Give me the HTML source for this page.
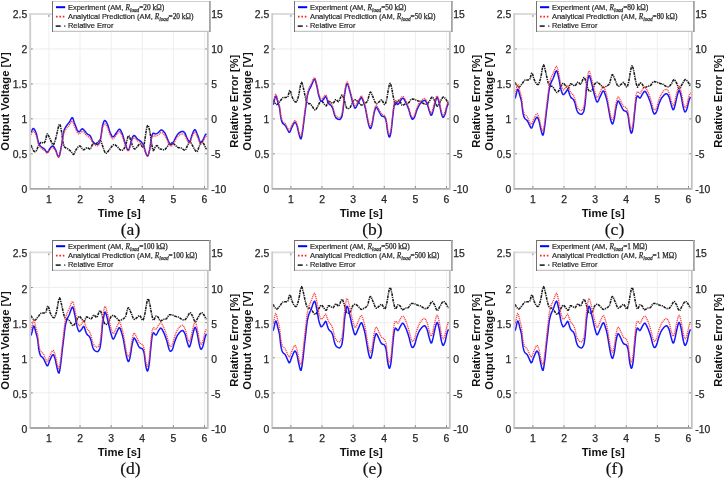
<!DOCTYPE html>
<html><head><meta charset="utf-8"><style>
html,body{margin:0;padding:0;background:#fff;width:725px;height:478px;overflow:hidden}
svg{display:block;will-change:transform}
text{font-family:"Liberation Sans",sans-serif;fill:#1a1a1a}
.tl{font-size:10.4px;fill:#262626;stroke:#262626;stroke-width:0.25px}
.al{font-size:11.3px;font-weight:bold;fill:#111}
.cap{font-family:"Liberation Serif",serif;font-size:17.5px;fill:#111;stroke:#111;stroke-width:0.2px}
.lg{font-size:7.45px;fill:#282828;stroke:#282828;stroke-width:0.2px}
.ser{font-family:"Liberation Serif",serif;font-size:7.35px;stroke-width:0.25px}
</style></head><body>
<svg width="725" height="478" viewBox="0 0 725 478">
<g transform="translate(0,0)">
<path d="M48.90 14.0V188.8M80.02 14.0V188.8M111.14 14.0V188.8M142.26 14.0V188.8M173.38 14.0V188.8M204.50 14.0V188.8M30.2 153.84H207.8M30.2 118.88H207.8M30.2 83.92H207.8M30.2 48.96H207.8" stroke="#ececec" stroke-width="0.9" fill="none"/>
<path d="M31.10 145.01 L31.60 146.58 L32.10 147.88 L32.60 148.95 L33.10 149.95 L33.60 150.79 L34.10 151.37 L34.60 151.61 L35.10 151.62 L35.60 151.40 L36.10 150.96 L36.60 150.28 L37.10 149.13 L37.60 147.74 L38.10 146.41 L38.60 145.44 L39.10 144.65 L39.60 143.91 L40.10 143.25 L40.60 142.73 L41.10 142.39 L41.60 142.29 L42.10 142.45 L42.60 142.75 L43.10 143.01 L43.60 143.09 L44.10 142.83 L44.60 142.28 L45.10 141.56 L45.60 140.20 L46.10 137.73 L46.60 135.25 L47.10 133.93 L47.60 134.16 L48.10 134.88 L48.60 135.89 L49.10 137.02 L49.60 138.11 L50.10 139.09 L50.60 140.19 L51.10 141.35 L51.60 142.49 L52.10 143.50 L52.60 144.31 L53.10 144.80 L53.60 144.62 L54.10 143.65 L54.60 142.18 L55.10 140.50 L55.60 138.90 L56.10 137.19 L56.60 135.10 L57.10 132.79 L57.60 130.44 L58.10 128.22 L58.60 126.31 L59.10 124.87 L59.60 124.16 L60.10 124.90 L60.60 126.79 L61.10 129.30 L61.60 131.96 L62.10 135.76 L62.60 140.04 L63.10 143.10 L63.60 144.84 L64.10 146.22 L64.60 147.11 L65.10 147.50 L65.60 147.77 L66.10 148.00 L66.60 148.22 L67.10 148.45 L67.60 148.73 L68.10 149.07 L68.60 149.46 L69.10 149.86 L69.60 150.27 L70.10 150.70 L70.60 151.14 L71.10 151.60 L71.60 152.23 L72.10 152.99 L72.60 153.71 L73.10 154.24 L73.60 154.39 L74.10 153.89 L74.60 152.89 L75.10 151.66 L75.60 150.49 L76.10 149.67 L76.60 148.98 L77.10 148.27 L77.60 147.60 L78.10 146.99 L78.60 146.50 L79.10 146.15 L79.60 146.00 L80.10 146.10 L80.60 146.49 L81.10 147.10 L81.60 147.82 L82.10 148.55 L82.60 149.19 L83.10 149.64 L83.60 149.80 L84.10 149.67 L84.60 149.38 L85.10 148.98 L85.60 148.54 L86.10 148.13 L86.60 147.81 L87.10 147.67 L87.60 147.76 L88.10 148.01 L88.60 148.36 L89.10 148.70 L89.60 148.95 L90.10 149.04 L90.60 148.75 L91.10 147.77 L91.60 146.42 L92.10 145.07 L92.60 144.10 L93.10 143.74 L93.60 143.61 L94.10 143.59 L94.60 143.63 L95.10 143.67 L95.60 143.65 L96.10 143.50 L96.60 143.17 L97.10 142.69 L97.60 142.13 L98.10 141.53 L98.60 140.98 L99.10 140.54 L99.60 140.26 L100.10 140.25 L100.60 140.78 L101.10 141.78 L101.60 143.09 L102.10 144.54 L102.60 145.97 L103.10 147.34 L103.60 148.92 L104.10 150.36 L104.60 151.54 L105.10 152.60 L105.60 153.24 L106.10 153.23 L106.60 152.92 L107.10 152.44 L107.60 151.89 L108.10 151.29 L108.60 150.65 L109.10 150.00 L109.60 149.36 L110.10 148.76 L110.60 148.11 L111.10 147.42 L111.60 146.73 L112.10 146.08 L112.60 145.50 L113.10 145.04 L113.60 144.72 L114.10 144.59 L114.60 144.66 L115.10 144.89 L115.60 145.25 L116.10 145.69 L116.60 146.16 L117.10 146.63 L117.60 147.08 L118.10 147.58 L118.60 148.13 L119.10 148.69 L119.60 149.24 L120.10 149.73 L120.60 150.13 L121.10 150.38 L121.60 150.43 L122.10 150.30 L122.60 150.01 L123.10 149.60 L123.60 149.09 L124.10 148.50 L124.60 147.62 L125.10 146.34 L125.60 144.86 L126.10 143.38 L126.60 141.82 L127.10 139.92 L127.60 138.01 L128.10 136.47 L128.60 135.65 L129.10 135.85 L129.60 136.92 L130.10 138.45 L130.60 140.04 L131.10 141.44 L131.60 142.97 L132.10 144.50 L132.60 145.85 L133.10 146.88 L133.60 147.81 L134.10 148.57 L134.60 149.00 L135.10 148.95 L135.60 148.59 L136.10 148.10 L136.60 147.53 L137.10 146.95 L137.60 146.39 L138.10 145.76 L138.60 145.06 L139.10 144.40 L139.60 143.91 L140.10 143.69 L140.60 144.01 L141.10 144.77 L141.60 145.68 L142.10 146.47 L142.60 146.91 L143.10 146.94 L143.60 146.51 L144.10 145.12 L144.60 141.75 L145.10 138.26 L145.60 134.76 L146.10 131.26 L146.60 128.43 L147.10 126.60 L147.60 125.54 L148.10 125.50 L148.60 126.57 L149.10 128.41 L149.60 130.60 L150.10 133.17 L150.60 136.20 L151.10 139.47 L151.60 143.29 L152.10 146.50 L152.60 148.86 L153.10 150.45 L153.60 150.37 L154.10 149.38 L154.60 148.19 L155.10 147.30 L155.60 146.68 L156.10 146.08 L156.60 145.66 L157.10 145.57 L157.60 145.98 L158.10 146.84 L158.60 147.78 L159.10 148.44 L159.60 148.69 L160.10 148.89 L160.60 149.07 L161.10 149.22 L161.60 149.35 L162.10 149.47 L162.60 149.60 L163.10 149.72 L163.60 149.79 L164.10 149.81 L164.60 149.71 L165.10 149.36 L165.60 148.82 L166.10 148.19 L166.60 147.54 L167.10 146.92 L167.60 146.18 L168.10 145.40 L168.60 144.66 L169.10 144.07 L169.60 143.68 L170.10 143.36 L170.60 143.11 L171.10 142.95 L171.60 142.90 L172.10 142.97 L172.60 143.17 L173.10 143.45 L173.60 143.79 L174.10 144.18 L174.60 144.59 L175.10 145.00 L175.60 145.46 L176.10 145.98 L176.60 146.50 L177.10 146.96 L177.60 147.30 L178.10 147.51 L178.60 147.65 L179.10 147.74 L179.60 147.81 L180.10 147.87 L180.60 147.95 L181.10 148.07 L181.60 148.27 L182.10 148.58 L182.60 148.96 L183.10 149.35 L183.60 149.71 L184.10 150.01 L184.60 150.18 L185.10 150.18 L185.60 149.69 L186.10 148.76 L186.60 147.59 L187.10 146.41 L187.60 145.42 L188.10 144.38 L188.60 143.28 L189.10 142.29 L189.60 141.61 L190.10 141.41 L190.60 141.85 L191.10 142.73 L191.60 143.80 L192.10 144.80 L192.60 145.72 L193.10 146.69 L193.60 147.66 L194.10 148.58 L194.60 149.40 L195.10 150.16 L195.60 150.86 L196.10 151.39 L196.60 151.64 L197.10 151.50 L197.60 150.78 L198.10 149.55 L198.60 148.11 L199.10 146.74 L199.60 145.50 L200.10 144.14 L200.60 142.89 L201.10 142.00 L201.60 141.66 L202.10 141.76 L202.60 142.19 L203.10 142.83 L203.60 143.59 L204.10 144.42 L204.60 145.50 L205.10 146.69 L205.60 147.83 L206.10 148.74 L206.60 149.31" fill="none" stroke="#1a1a1a" stroke-width="1.55" stroke-dasharray="2.8 0.8 1.2 0.8" stroke-linejoin="round"/>
<path d="M31.10 132.68 L31.60 131.18 L32.10 129.92 L32.60 129.00 L33.10 128.53 L33.60 128.58 L34.10 129.00 L34.60 129.71 L35.10 130.66 L35.60 131.80 L36.10 133.08 L36.60 134.53 L37.10 136.56 L37.60 138.95 L38.10 141.30 L38.60 143.17 L39.10 144.25 L39.60 145.02 L40.10 145.65 L40.60 146.19 L41.10 146.65 L41.60 147.06 L42.10 147.43 L42.60 147.76 L43.10 148.10 L43.60 148.45 L44.10 148.83 L44.60 149.31 L45.10 149.98 L45.60 150.74 L46.10 151.46 L46.60 152.02 L47.10 152.29 L47.60 152.15 L48.10 151.60 L48.60 150.79 L49.10 149.87 L49.60 148.96 L50.10 148.22 L50.60 147.65 L51.10 147.10 L51.60 146.60 L52.10 146.22 L52.60 146.02 L53.10 146.09 L53.60 146.54 L54.10 147.23 L54.60 148.04 L55.10 148.85 L55.60 149.76 L56.10 151.05 L56.60 152.55 L57.10 154.08 L57.60 155.46 L58.10 156.47 L58.60 156.93 L59.10 156.41 L59.60 154.93 L60.10 152.79 L60.60 150.26 L61.10 147.62 L61.60 145.10 L62.10 142.06 L62.60 138.53 L63.10 135.05 L63.60 132.14 L64.10 130.33 L64.60 129.11 L65.10 128.06 L65.60 127.16 L66.10 126.37 L66.60 125.65 L67.10 124.97 L67.60 124.31 L68.10 123.69 L68.60 123.09 L69.10 122.46 L69.60 121.75 L70.10 120.82 L70.60 119.80 L71.10 118.83 L71.60 118.07 L72.10 117.64 L72.60 117.82 L73.10 118.92 L73.60 120.54 L74.10 122.19 L74.60 123.47 L75.10 124.73 L75.60 126.04 L76.10 127.35 L76.60 128.61 L77.10 129.75 L77.60 130.70 L78.10 131.40 L78.60 131.80 L79.10 131.82 L79.60 131.51 L80.10 130.98 L80.60 130.33 L81.10 129.69 L81.60 129.15 L82.10 128.84 L82.60 128.85 L83.10 129.19 L83.60 129.64 L84.10 130.18 L84.60 130.77 L85.10 131.40 L85.60 132.03 L86.10 132.64 L86.60 133.20 L87.10 133.68 L87.60 134.06 L88.10 134.37 L88.60 134.65 L89.10 134.95 L89.60 135.31 L90.10 135.77 L90.60 136.44 L91.10 137.51 L91.60 138.77 L92.10 140.04 L92.60 141.09 L93.10 141.79 L93.60 142.37 L94.10 142.87 L94.60 143.29 L95.10 143.62 L95.60 143.90 L96.10 144.11 L96.60 144.25 L97.10 144.35 L97.60 144.39 L98.10 144.31 L98.60 143.81 L99.10 142.93 L99.60 141.76 L100.10 140.39 L100.60 138.62 L101.10 135.64 L101.60 132.00 L102.10 128.39 L102.60 125.50 L103.10 123.70 L103.60 122.20 L104.10 121.07 L104.60 120.52 L105.10 120.63 L105.60 121.04 L106.10 121.68 L106.60 122.51 L107.10 123.48 L107.60 124.61 L108.10 126.04 L108.60 127.66 L109.10 129.36 L109.60 131.02 L110.10 132.51 L110.60 133.70 L111.10 134.65 L111.60 135.57 L112.10 136.33 L112.60 136.79 L113.10 136.85 L113.60 136.50 L114.10 136.00 L114.60 135.39 L115.10 134.70 L115.60 133.98 L116.10 133.27 L116.60 132.60 L117.10 131.90 L117.60 131.14 L118.10 130.40 L118.60 129.75 L119.10 129.30 L119.60 129.22 L120.10 129.58 L120.60 130.28 L121.10 131.20 L121.60 132.25 L122.10 133.32 L122.60 134.63 L123.10 136.23 L123.60 137.98 L124.10 139.74 L124.60 141.41 L125.10 142.88 L125.60 144.43 L126.10 146.02 L126.60 147.53 L127.10 148.81 L127.60 149.74 L128.10 150.18 L128.60 149.97 L129.10 148.97 L129.60 147.41 L130.10 145.58 L130.60 143.76 L131.10 142.04 L131.60 140.04 L132.10 138.21 L132.60 137.03 L133.10 136.26 L133.60 135.70 L134.10 135.47 L134.60 135.67 L135.10 136.12 L135.60 136.68 L136.10 137.30 L136.60 137.92 L137.10 138.50 L137.60 138.99 L138.10 139.40 L138.60 139.77 L139.10 140.12 L139.60 140.46 L140.10 140.83 L140.60 141.23 L141.10 141.68 L141.60 142.22 L142.10 142.85 L142.60 143.58 L143.10 144.43 L143.60 145.48 L144.10 146.96 L144.60 148.71 L145.10 150.55 L145.60 152.24 L146.10 153.62 L146.60 154.85 L147.10 155.76 L147.60 156.11 L148.10 155.47 L148.60 153.98 L149.10 151.98 L149.60 149.80 L150.10 146.92 L150.60 143.18 L151.10 139.50 L151.60 136.76 L152.10 135.18 L152.60 133.93 L153.10 133.19 L153.60 133.16 L154.10 133.40 L154.60 133.68 L155.10 133.88 L155.60 133.88 L156.10 133.76 L156.60 133.58 L157.10 133.36 L157.60 133.10 L158.10 132.75 L158.60 132.27 L159.10 131.72 L159.60 131.17 L160.10 130.67 L160.60 130.27 L161.10 130.03 L161.60 130.00 L162.10 130.16 L162.60 130.47 L163.10 130.90 L163.60 131.41 L164.10 131.97 L164.60 132.60 L165.10 133.45 L165.60 134.48 L166.10 135.60 L166.60 136.75 L167.10 137.91 L167.60 139.20 L168.10 140.51 L168.60 141.71 L169.10 142.66 L169.60 143.53 L170.10 144.27 L170.60 144.72 L171.10 144.77 L171.60 144.47 L172.10 143.93 L172.60 143.22 L173.10 142.44 L173.60 141.64 L174.10 140.76 L174.60 139.79 L175.10 138.77 L175.60 137.74 L176.10 136.77 L176.60 135.91 L177.10 135.16 L177.60 134.48 L178.10 133.86 L178.60 133.34 L179.10 132.93 L179.60 132.57 L180.10 132.24 L180.60 131.95 L181.10 131.70 L181.60 131.51 L182.10 131.38 L182.60 131.39 L183.10 131.53 L183.60 131.79 L184.10 132.16 L184.60 132.60 L185.10 133.33 L185.60 134.42 L186.10 135.70 L186.60 136.99 L187.10 138.10 L187.60 139.13 L188.10 140.18 L188.60 141.09 L189.10 141.69 L189.60 141.80 L190.10 141.11 L190.60 139.70 L191.10 137.91 L191.60 136.12 L192.10 134.70 L192.60 133.53 L193.10 132.30 L193.60 131.18 L194.10 130.28 L194.60 129.76 L195.10 129.75 L195.60 130.29 L196.10 131.25 L196.60 132.46 L197.10 133.74 L197.60 134.93 L198.10 136.29 L198.60 137.84 L199.10 139.39 L199.60 140.78 L200.10 141.83 L200.60 142.36 L201.10 142.35 L201.60 141.95 L202.10 141.28 L202.60 140.47 L203.10 139.63 L203.60 138.62 L204.10 137.45 L204.60 136.29 L205.10 135.28 L205.60 134.59 L206.10 134.09 L206.60 133.74" fill="none" stroke="#1515ff" stroke-width="1.5" stroke-linejoin="round"/>
<path d="M31.10 134.78 L31.60 133.47 L32.10 132.36 L32.60 131.57 L33.10 131.21 L33.60 131.33 L34.10 131.78 L34.60 132.48 L35.10 133.38 L35.60 134.45 L36.10 135.64 L36.60 136.96 L37.10 138.82 L37.60 141.02 L38.10 143.16 L38.60 144.90 L39.10 145.89 L39.60 146.58 L40.10 147.16 L40.60 147.65 L41.10 148.06 L41.60 148.46 L42.10 148.82 L42.60 149.17 L43.10 149.50 L43.60 149.85 L44.10 150.20 L44.60 150.63 L45.10 151.24 L45.60 151.90 L46.10 152.46 L46.60 152.88 L47.10 153.08 L47.60 152.95 L48.10 152.46 L48.60 151.72 L49.10 150.88 L49.60 150.05 L50.10 149.39 L50.60 148.90 L51.10 148.44 L51.60 148.03 L52.10 147.72 L52.60 147.57 L53.10 147.68 L53.60 148.09 L54.10 148.70 L54.60 149.39 L55.10 150.09 L55.60 150.88 L56.10 152.04 L56.60 153.40 L57.10 154.78 L57.60 156.00 L58.10 156.90 L58.60 157.27 L59.10 156.68 L59.60 155.19 L60.10 153.10 L60.60 150.69 L61.10 148.23 L61.60 145.92 L62.10 143.19 L62.60 140.05 L63.10 136.91 L63.60 134.25 L64.10 132.62 L64.60 131.51 L65.10 130.55 L65.60 129.71 L66.10 128.97 L66.60 128.30 L67.10 127.67 L67.60 127.06 L68.10 126.50 L68.60 125.96 L69.10 125.40 L69.60 124.76 L70.10 123.91 L70.60 122.98 L71.10 122.11 L71.60 121.44 L72.10 121.11 L72.60 121.35 L73.10 122.45 L73.60 124.01 L74.10 125.53 L74.60 126.65 L75.10 127.73 L75.60 128.88 L76.10 130.06 L76.60 131.20 L77.10 132.23 L77.60 133.08 L78.10 133.71 L78.60 134.05 L79.10 134.05 L79.60 133.74 L80.10 133.23 L80.60 132.65 L81.10 132.07 L81.60 131.62 L82.10 131.38 L82.60 131.44 L83.10 131.81 L83.60 132.26 L84.10 132.76 L84.60 133.30 L85.10 133.87 L85.60 134.44 L86.10 134.99 L86.60 135.50 L87.10 135.95 L87.60 136.32 L88.10 136.63 L88.60 136.93 L89.10 137.25 L89.60 137.61 L90.10 138.06 L90.60 138.68 L91.10 139.63 L91.60 140.74 L92.10 141.86 L92.60 142.81 L93.10 143.46 L93.60 144.02 L94.10 144.50 L94.60 144.90 L95.10 145.23 L95.60 145.49 L96.10 145.68 L96.60 145.81 L97.10 145.86 L97.60 145.87 L98.10 145.75 L98.60 145.23 L99.10 144.34 L99.60 143.19 L100.10 141.86 L100.60 140.19 L101.10 137.38 L101.60 133.97 L102.10 130.61 L102.60 127.96 L103.10 126.35 L103.60 125.07 L104.10 124.12 L104.60 123.70 L105.10 123.91 L105.60 124.38 L106.10 124.98 L106.60 125.73 L107.10 126.61 L107.60 127.64 L108.10 128.95 L108.60 130.44 L109.10 132.01 L109.60 133.54 L110.10 134.91 L110.60 136.01 L111.10 136.87 L111.60 137.69 L112.10 138.37 L112.60 138.77 L113.10 138.79 L113.60 138.44 L114.10 137.94 L114.60 137.36 L115.10 136.72 L115.60 136.05 L116.10 135.40 L116.60 134.79 L117.10 134.16 L117.60 133.47 L118.10 132.79 L118.60 132.22 L119.10 131.84 L119.60 131.81 L120.10 132.20 L120.60 132.90 L121.10 133.80 L121.60 134.80 L122.10 135.81 L122.60 137.05 L123.10 138.54 L123.60 140.17 L124.10 141.82 L124.60 143.35 L125.10 144.68 L125.60 146.08 L126.10 147.52 L126.60 148.88 L127.10 150.01 L127.60 150.81 L128.10 151.16 L128.60 150.90 L129.10 149.93 L129.60 148.48 L130.10 146.79 L130.60 145.13 L131.10 143.55 L131.60 141.72 L132.10 140.06 L132.60 139.02 L133.10 138.36 L133.60 137.90 L134.10 137.74 L134.60 137.96 L135.10 138.39 L135.60 138.90 L136.10 139.45 L136.60 140.00 L137.10 140.52 L137.60 140.95 L138.10 141.30 L138.60 141.61 L139.10 141.90 L139.60 142.19 L140.10 142.53 L140.60 142.93 L141.10 143.43 L141.60 144.01 L142.10 144.67 L142.60 145.39 L143.10 146.20 L143.60 147.18 L144.10 148.53 L144.60 150.03 L145.10 151.60 L145.60 153.06 L146.10 154.25 L146.60 155.32 L147.10 156.13 L147.60 156.42 L148.10 155.78 L148.60 154.36 L149.10 152.48 L149.60 150.46 L150.10 147.78 L150.60 144.32 L151.10 140.95 L151.60 138.58 L152.10 137.30 L152.60 136.28 L153.10 135.70 L153.60 135.66 L154.10 135.81 L154.60 135.99 L155.10 136.12 L155.60 136.07 L156.10 135.90 L156.60 135.70 L157.10 135.47 L157.60 135.26 L158.10 134.99 L158.60 134.61 L159.10 134.14 L159.60 133.63 L160.10 133.16 L160.60 132.79 L161.10 132.58 L161.60 132.56 L162.10 132.72 L162.60 133.03 L163.10 133.45 L163.60 133.95 L164.10 134.49 L164.60 135.07 L165.10 135.86 L165.60 136.81 L166.10 137.84 L166.60 138.88 L167.10 139.94 L167.60 141.14 L168.10 142.35 L168.60 143.44 L169.10 144.32 L169.60 145.13 L170.10 145.83 L170.60 146.25 L171.10 146.29 L171.60 145.99 L172.10 145.47 L172.60 144.80 L173.10 144.07 L173.60 143.32 L174.10 142.51 L174.60 141.60 L175.10 140.64 L175.60 139.68 L176.10 138.79 L176.60 138.00 L177.10 137.32 L177.60 136.69 L178.10 136.12 L178.60 135.62 L179.10 135.23 L179.60 134.90 L180.10 134.58 L180.60 134.31 L181.10 134.08 L181.60 133.91 L182.10 133.82 L182.60 133.86 L183.10 134.02 L183.60 134.30 L184.10 134.67 L184.60 135.12 L185.10 135.81 L185.60 136.81 L186.10 137.97 L186.60 139.11 L187.10 140.09 L187.60 141.02 L188.10 141.96 L188.60 142.76 L189.10 143.27 L189.60 143.33 L190.10 142.65 L190.60 141.31 L191.10 139.64 L191.60 138.00 L192.10 136.70 L192.60 135.65 L193.10 134.55 L193.60 133.55 L194.10 132.77 L194.60 132.34 L195.10 132.39 L195.60 132.97 L196.10 133.93 L196.60 135.09 L197.10 136.30 L197.60 137.39 L198.10 138.59 L198.60 139.97 L199.10 141.36 L199.60 142.61 L200.10 143.53 L200.60 143.95 L201.10 143.89 L201.60 143.48 L202.10 142.83 L202.60 142.08 L203.10 141.32 L203.60 140.39 L204.10 139.33 L204.60 138.29 L205.10 137.42 L205.60 136.84 L206.10 136.43 L206.60 136.14" fill="none" stroke="#ff3838" stroke-width="1.35" stroke-dasharray="1.1 0.8" stroke-linejoin="round"/>
<path d="M30.2 14.0H207.8" stroke="#dcdcdc" stroke-width="1.8"/>
<path d="M30.2 13.1V189.70000000000002" stroke="#cecece" stroke-width="1.9"/>
<path d="M30.2 188.8H207.8" stroke="#a8a8a8" stroke-width="1.8"/>
<path d="M207.8 13.1V189.70000000000002" stroke="#c2c2c2" stroke-width="1.8"/>
<path d="M48.90 187.8v-1.8M48.90 15.0v1.8M80.02 187.8v-1.8M80.02 15.0v1.8M111.14 187.8v-1.8M111.14 15.0v1.8M142.26 187.8v-1.8M142.26 15.0v1.8M173.38 187.8v-1.8M173.38 15.0v1.8M204.50 187.8v-1.8M204.50 15.0v1.8M31.099999999999998 153.84h1.6M206.9 153.84h-1.6M31.099999999999998 118.88h1.6M206.9 118.88h-1.6M31.099999999999998 83.92h1.6M206.9 83.92h-1.6M31.099999999999998 48.96h1.6M206.9 48.96h-1.6" stroke="#808080" stroke-width="1"/>
<text x="27.3" y="193.20" class="tl" text-anchor="end">0</text>
<text x="27.3" y="158.24" class="tl" text-anchor="end">0.5</text>
<text x="27.3" y="123.28" class="tl" text-anchor="end">1</text>
<text x="27.3" y="88.32" class="tl" text-anchor="end">1.5</text>
<text x="27.3" y="53.36" class="tl" text-anchor="end">2</text>
<text x="27.3" y="18.40" class="tl" text-anchor="end">2.5</text>
<text x="211.2" y="193.20" class="tl">-10</text>
<text x="211.2" y="158.24" class="tl">-5</text>
<text x="211.2" y="123.28" class="tl">0</text>
<text x="211.2" y="88.32" class="tl">5</text>
<text x="211.2" y="53.36" class="tl">10</text>
<text x="211.2" y="18.40" class="tl">15</text>
<text x="48.90" y="202.60" class="tl" text-anchor="middle">1</text>
<text x="80.02" y="202.60" class="tl" text-anchor="middle">2</text>
<text x="111.14" y="202.60" class="tl" text-anchor="middle">3</text>
<text x="142.26" y="202.60" class="tl" text-anchor="middle">4</text>
<text x="173.38" y="202.60" class="tl" text-anchor="middle">5</text>
<text x="204.50" y="202.60" class="tl" text-anchor="middle">6</text>
<text class="al" text-anchor="middle" transform="translate(9.4,101.5) rotate(-90)">Output Voltage [V]</text>
<text class="al" text-anchor="middle" font-size="11.1" style="font-size:11.1px" transform="translate(238.2,101.3) rotate(-90)">Relative Error [%]</text>
<text class="al" x="119.2" y="216.6" text-anchor="middle">Time [s]</text>
<text class="cap" x="130.5" y="234.6" text-anchor="middle">(a)</text>
<rect x="52" y="1" width="159" height="31" fill="#fff"/>
<path d="M52 1.5H211" stroke="#cfcfcf" stroke-width="1"/>
<path d="M52 31.4H211" stroke="#c4c4c4" stroke-width="1.2"/>
<path d="M52.5 1V32" stroke="#747474" stroke-width="1"/>
<path d="M209.9 1V32" stroke="#a4a4a4" stroke-width="1.8"/>
<path d="M56 7.2H65.2" stroke="#0000ff" stroke-width="2"/>
<path d="M56 16.6H65.2" stroke="#ff2020" stroke-width="1.6" stroke-dasharray="1.6 1.8"/>
<path d="M55.7 26.1H60.7M64.3 26.1H65.3" stroke="#333" stroke-width="1.6"/>
<text class="lg" x="68" y="10.1">Experiment (AM, <tspan class="ser"><tspan font-style="italic">R</tspan><tspan font-style="italic" font-size="5.2" dy="1.7">load</tspan><tspan dy="-1.7">=20 kΩ)</tspan></tspan></text>
<text class="lg" x="68" y="18.9">Analytical Prediction (AM, <tspan class="ser"><tspan font-style="italic">R</tspan><tspan font-style="italic" font-size="5.2" dy="1.7">load</tspan><tspan dy="-1.7">=20 kΩ)</tspan></tspan></text>
<text class="lg" x="68" y="27.6">Relative Error</text>
</g>
<g transform="translate(242,0)">
<path d="M48.90 14.0V188.8M80.02 14.0V188.8M111.14 14.0V188.8M142.26 14.0V188.8M173.38 14.0V188.8M204.50 14.0V188.8M30.2 153.84H207.8M30.2 118.88H207.8M30.2 83.92H207.8M30.2 48.96H207.8" stroke="#ececec" stroke-width="0.9" fill="none"/>
<path d="M31.10 99.91 L31.60 101.00 L32.10 101.97 L32.60 102.79 L33.10 103.38 L33.60 103.91 L34.10 104.36 L34.60 104.58 L35.10 104.47 L35.60 104.14 L36.10 103.68 L36.60 103.11 L37.10 102.45 L37.60 101.78 L38.10 101.16 L38.60 100.50 L39.10 99.80 L39.60 99.09 L40.10 98.46 L40.60 97.93 L41.10 97.58 L41.60 97.45 L42.10 97.43 L42.60 97.45 L43.10 97.48 L43.60 97.47 L44.10 97.42 L44.60 97.34 L45.10 97.22 L45.60 97.08 L46.10 96.14 L46.60 94.20 L47.10 92.08 L47.60 90.61 L48.10 90.54 L48.60 91.64 L49.10 93.37 L49.60 95.26 L50.10 96.84 L50.60 97.97 L51.10 99.04 L51.60 100.01 L52.10 100.82 L52.60 101.42 L53.10 101.83 L53.60 102.03 L54.10 102.01 L54.60 101.70 L55.10 100.74 L55.60 99.29 L56.10 97.57 L56.60 95.82 L57.10 93.43 L57.60 90.45 L58.10 87.37 L58.60 84.67 L59.10 82.85 L59.60 82.37 L60.10 83.23 L60.60 84.94 L61.10 87.04 L61.60 89.07 L62.10 91.26 L62.60 93.66 L63.10 96.04 L63.60 98.19 L64.10 99.88 L64.60 101.28 L65.10 102.43 L65.60 103.19 L66.10 103.51 L66.60 103.62 L67.10 103.64 L67.60 103.66 L68.10 103.81 L68.60 104.18 L69.10 104.78 L69.60 105.47 L70.10 106.21 L70.60 106.94 L71.10 107.68 L71.60 108.50 L72.10 109.27 L72.60 109.84 L73.10 110.05 L73.60 109.78 L74.10 109.19 L74.60 108.44 L75.10 107.66 L75.60 106.67 L76.10 105.57 L76.60 104.50 L77.10 103.62 L77.60 102.75 L78.10 101.90 L78.60 101.20 L79.10 100.80 L79.60 100.82 L80.10 101.22 L80.60 101.83 L81.10 102.56 L81.60 103.28 L82.10 103.89 L82.60 104.52 L83.10 105.14 L83.60 105.64 L84.10 105.88 L84.60 105.43 L85.10 104.27 L85.60 102.87 L86.10 101.71 L86.60 101.28 L87.10 101.42 L87.60 101.65 L88.10 101.93 L88.60 102.22 L89.10 102.48 L89.60 102.75 L90.10 103.03 L90.60 103.23 L91.10 103.22 L91.60 102.74 L92.10 101.94 L92.60 101.02 L93.10 100.19 L93.60 99.64 L94.10 99.55 L94.60 99.88 L95.10 100.45 L95.60 101.07 L96.10 101.54 L96.60 101.68 L97.10 101.23 L97.60 100.21 L98.10 98.85 L98.60 97.41 L99.10 96.13 L99.60 95.24 L100.10 94.99 L100.60 95.51 L101.10 96.63 L101.60 98.10 L102.10 99.73 L102.60 101.30 L103.10 103.25 L103.60 105.35 L104.10 106.90 L104.60 107.67 L105.10 108.26 L105.60 108.65 L106.10 108.80 L106.60 108.69 L107.10 108.42 L107.60 108.00 L108.10 107.46 L108.60 106.77 L109.10 105.65 L109.60 104.25 L110.10 102.85 L110.60 101.72 L111.10 101.07 L111.60 100.59 L112.10 100.20 L112.60 99.93 L113.10 99.82 L113.60 99.89 L114.10 100.16 L114.60 100.52 L115.10 100.95 L115.60 101.42 L116.10 101.91 L116.60 102.39 L117.10 102.90 L117.60 103.51 L118.10 104.12 L118.60 104.64 L119.10 104.95 L119.60 105.02 L120.10 104.92 L120.60 104.71 L121.10 104.43 L121.60 104.12 L122.10 103.83 L122.60 103.57 L123.10 103.28 L123.60 102.96 L124.10 102.59 L124.60 102.16 L125.10 101.68 L125.60 100.72 L126.10 99.10 L126.60 97.12 L127.10 95.11 L127.60 93.40 L128.10 92.30 L128.60 92.13 L129.10 92.70 L129.60 93.70 L130.10 94.93 L130.60 96.19 L131.10 97.29 L131.60 98.46 L132.10 99.76 L132.60 101.07 L133.10 102.25 L133.60 103.17 L134.10 103.70 L134.60 103.77 L135.10 103.56 L135.60 103.18 L136.10 102.71 L136.60 102.24 L137.10 101.83 L137.60 101.37 L138.10 100.90 L138.60 100.45 L139.10 100.09 L139.60 99.95 L140.10 100.35 L140.60 101.14 L141.10 102.14 L141.60 103.17 L142.10 104.03 L142.60 104.54 L143.10 104.35 L143.60 103.25 L144.10 101.52 L144.60 99.50 L145.10 97.23 L145.60 94.12 L146.10 90.85 L146.60 88.22 L147.10 85.90 L147.60 84.03 L148.10 83.28 L148.60 83.97 L149.10 85.65 L149.60 87.80 L150.10 90.13 L150.60 93.00 L151.10 95.91 L151.60 98.31 L152.10 100.52 L152.60 102.58 L153.10 104.06 L153.60 104.58 L154.10 104.08 L154.60 103.04 L155.10 101.83 L155.60 100.82 L156.10 100.38 L156.60 100.44 L157.10 100.67 L157.60 101.05 L158.10 101.56 L158.60 102.34 L159.10 103.49 L159.60 104.61 L160.10 105.31 L160.60 105.35 L161.10 105.18 L161.60 104.92 L162.10 104.60 L162.60 104.28 L163.10 103.99 L163.60 103.78 L164.10 103.67 L164.60 103.60 L165.10 103.55 L165.60 103.45 L166.10 103.28 L166.60 102.89 L167.10 102.24 L167.60 101.45 L168.10 100.64 L168.60 99.91 L169.10 99.38 L169.60 99.16 L170.10 99.10 L170.60 99.10 L171.10 99.14 L171.60 99.23 L172.10 99.36 L172.60 99.51 L173.10 99.69 L173.60 99.89 L174.10 100.11 L174.60 100.33 L175.10 100.54 L175.60 100.74 L176.10 100.91 L176.60 101.06 L177.10 101.19 L177.60 101.32 L178.10 101.46 L178.60 101.64 L179.10 101.87 L179.60 102.18 L180.10 102.53 L180.60 102.89 L181.10 103.25 L181.60 103.57 L182.10 103.83 L182.60 104.02 L183.10 104.16 L183.60 104.24 L184.10 104.25 L184.60 104.18 L185.10 103.95 L185.60 103.51 L186.10 102.94 L186.60 102.31 L187.10 101.68 L187.60 100.93 L188.10 99.97 L188.60 98.96 L189.10 98.03 L189.60 97.35 L190.10 97.06 L190.60 97.27 L191.10 97.89 L191.60 98.74 L192.10 99.68 L192.60 100.55 L193.10 101.66 L193.60 103.00 L194.10 104.35 L194.60 105.48 L195.10 106.17 L195.60 106.21 L196.10 105.66 L196.60 104.74 L197.10 103.65 L197.60 102.61 L198.10 101.76 L198.60 100.89 L199.10 99.98 L199.60 99.09 L200.10 98.28 L200.60 97.62 L201.10 97.18 L201.60 97.04 L202.10 97.24 L202.60 97.70 L203.10 98.30 L203.60 98.94 L204.10 99.58 L204.60 100.45 L205.10 101.42 L205.60 102.35 L206.10 103.08 L206.60 103.22" fill="none" stroke="#1a1a1a" stroke-width="1.55" stroke-dasharray="2.8 0.8 1.2 0.8" stroke-linejoin="round"/>
<path d="M31.10 104.80 L31.60 103.15 L32.10 101.39 L32.60 99.30 L33.10 97.40 L33.60 96.25 L34.10 96.34 L34.60 97.46 L35.10 99.20 L35.60 101.11 L36.10 102.81 L36.60 104.38 L37.10 106.13 L37.60 108.26 L38.10 111.87 L38.60 116.19 L39.10 118.87 L39.60 120.75 L40.10 122.19 L40.60 123.15 L41.10 123.70 L41.60 124.10 L42.10 124.45 L42.60 124.82 L43.10 125.31 L43.60 126.00 L44.10 126.88 L44.60 127.84 L45.10 128.82 L45.60 129.75 L46.10 130.72 L46.60 131.71 L47.10 132.36 L47.60 132.34 L48.10 131.61 L48.60 130.44 L49.10 129.10 L49.60 127.84 L50.10 126.83 L50.60 125.80 L51.10 124.77 L51.60 123.82 L52.10 123.01 L52.60 122.40 L53.10 122.19 L53.60 122.61 L54.10 123.47 L54.60 124.61 L55.10 125.98 L55.60 127.96 L56.10 130.24 L56.60 132.48 L57.10 134.38 L57.60 136.22 L58.10 137.83 L58.60 138.86 L59.10 138.83 L59.60 137.14 L60.10 134.41 L60.60 131.33 L61.10 127.84 L61.60 123.76 L62.10 119.60 L62.60 115.74 L63.10 111.96 L63.60 108.24 L64.10 104.54 L64.60 100.57 L65.10 97.04 L65.60 94.69 L66.10 92.83 L66.60 91.28 L67.10 90.01 L67.60 88.96 L68.10 88.05 L68.60 87.16 L69.10 86.21 L69.60 85.05 L70.10 83.77 L70.60 82.44 L71.10 81.20 L71.60 80.13 L72.10 79.35 L72.60 79.02 L73.10 79.67 L73.60 81.14 L74.10 83.09 L74.60 85.21 L75.10 87.24 L75.60 89.77 L76.10 92.53 L76.60 95.05 L77.10 96.83 L77.60 98.28 L78.10 99.58 L78.60 100.57 L79.10 101.15 L79.60 101.15 L80.10 100.81 L80.60 100.34 L81.10 99.80 L81.60 99.24 L82.10 98.54 L82.60 97.68 L83.10 96.94 L83.60 96.55 L84.10 96.90 L84.60 98.06 L85.10 99.61 L85.60 101.09 L86.10 102.21 L86.60 103.24 L87.10 104.02 L87.60 104.47 L88.10 104.75 L88.60 105.03 L89.10 105.47 L89.60 106.16 L90.10 107.06 L90.60 108.15 L91.10 109.53 L91.60 111.47 L92.10 113.48 L92.60 115.03 L93.10 116.25 L93.60 117.26 L94.10 117.94 L94.60 118.36 L95.10 118.71 L95.60 119.00 L96.10 119.22 L96.60 119.38 L97.10 119.48 L97.60 119.51 L98.10 119.27 L98.60 118.73 L99.10 118.01 L99.60 117.19 L100.10 115.59 L100.60 112.78 L101.10 109.35 L101.60 104.74 L102.10 98.72 L102.60 94.42 L103.10 91.26 L103.60 88.31 L104.10 85.84 L104.60 84.14 L105.10 83.49 L105.60 84.07 L106.10 85.27 L106.60 86.81 L107.10 88.58 L107.60 90.47 L108.10 92.37 L108.60 94.21 L109.10 96.18 L109.60 98.23 L110.10 100.22 L110.60 102.02 L111.10 103.56 L111.60 105.10 L112.10 106.53 L112.60 107.62 L113.10 108.13 L113.60 107.90 L114.10 107.22 L114.60 106.30 L115.10 105.25 L115.60 104.15 L116.10 103.14 L116.60 102.20 L117.10 101.18 L117.60 100.13 L118.10 99.17 L118.60 98.37 L119.10 97.83 L119.60 97.75 L120.10 98.37 L120.60 99.46 L121.10 100.83 L121.60 102.24 L122.10 103.62 L122.60 105.32 L123.10 107.27 L123.60 109.44 L124.10 111.98 L124.60 114.69 L125.10 117.29 L125.60 119.79 L126.10 122.25 L126.60 124.39 L127.10 126.05 L127.60 127.42 L128.10 128.32 L128.60 128.50 L129.10 127.70 L129.60 126.15 L130.10 124.26 L130.60 121.82 L131.10 118.75 L131.60 115.62 L132.10 113.03 L132.60 111.08 L133.10 109.21 L133.60 107.77 L134.10 107.11 L134.60 107.41 L135.10 108.04 L135.60 108.86 L136.10 109.78 L136.60 110.70 L137.10 111.59 L137.60 112.55 L138.10 113.52 L138.60 114.45 L139.10 115.25 L139.60 115.84 L140.10 116.17 L140.60 116.35 L141.10 116.44 L141.60 116.55 L142.10 116.77 L142.60 117.22 L143.10 118.02 L143.60 119.17 L144.10 120.73 L144.60 123.90 L145.10 127.98 L145.60 131.33 L146.10 133.66 L146.60 135.61 L147.10 136.86 L147.60 137.05 L148.10 136.03 L148.60 134.08 L149.10 131.49 L149.60 127.53 L150.10 122.66 L150.60 118.03 L151.10 113.57 L151.60 109.11 L152.10 105.68 L152.60 103.88 L153.10 102.76 L153.60 102.40 L154.10 102.74 L154.60 103.35 L155.10 103.99 L155.60 104.40 L156.10 104.36 L156.60 103.83 L157.10 103.04 L157.60 102.13 L158.10 101.23 L158.60 100.45 L159.10 99.74 L159.60 99.04 L160.10 98.46 L160.60 98.14 L161.10 98.21 L161.60 98.63 L162.10 99.32 L162.60 100.18 L163.10 101.12 L163.60 102.03 L164.10 102.98 L164.60 104.06 L165.10 105.22 L165.60 106.43 L166.10 107.71 L166.60 109.12 L167.10 110.62 L167.60 112.34 L168.10 114.19 L168.60 115.92 L169.10 117.29 L169.60 118.30 L170.10 119.01 L170.60 119.24 L171.10 119.05 L171.60 118.57 L172.10 117.84 L172.60 116.94 L173.10 115.78 L173.60 114.08 L174.10 112.26 L174.60 110.80 L175.10 109.57 L175.60 108.38 L176.10 107.25 L176.60 106.21 L177.10 105.28 L177.60 104.48 L178.10 103.83 L178.60 103.22 L179.10 102.64 L179.60 102.10 L180.10 101.61 L180.60 101.19 L181.10 100.84 L181.60 100.58 L182.10 100.41 L182.60 100.36 L183.10 100.55 L183.60 101.03 L184.10 101.71 L184.60 102.57 L185.10 103.55 L185.60 104.97 L186.10 106.78 L186.60 108.66 L187.10 110.31 L187.60 111.82 L188.10 113.31 L188.60 114.55 L189.10 115.27 L189.60 115.13 L190.10 114.06 L190.60 112.52 L191.10 110.86 L191.60 108.81 L192.10 106.59 L192.60 104.46 L193.10 102.63 L193.60 100.82 L194.10 99.17 L194.60 97.95 L195.10 97.44 L195.60 97.88 L196.10 99.06 L196.60 100.70 L197.10 102.50 L197.60 104.64 L198.10 107.27 L198.60 109.94 L199.10 112.25 L199.60 114.11 L200.10 115.80 L200.60 116.97 L201.10 117.32 L201.60 117.03 L202.10 116.29 L202.60 115.22 L203.10 113.94 L203.60 112.19 L204.10 110.10 L204.60 108.05 L205.10 106.40 L205.60 105.13 L206.10 104.08 L206.60 103.41" fill="none" stroke="#1515ff" stroke-width="1.5" stroke-linejoin="round"/>
<path d="M31.10 102.53 L31.60 100.97 L32.10 99.28 L32.60 97.25 L33.10 95.37 L33.60 94.28 L34.10 94.43 L34.60 95.60 L35.10 97.35 L35.60 99.26 L36.10 100.94 L36.60 102.48 L37.10 104.20 L37.60 106.29 L38.10 109.92 L38.60 114.28 L39.10 116.96 L39.60 118.82 L40.10 120.25 L40.60 121.17 L41.10 121.72 L41.60 122.12 L42.10 122.47 L42.60 122.85 L43.10 123.36 L43.60 124.08 L44.10 124.98 L44.60 125.97 L45.10 126.97 L45.60 127.91 L46.10 128.84 L46.60 129.70 L47.10 130.19 L47.60 130.05 L48.10 129.30 L48.60 128.17 L49.10 126.91 L49.60 125.78 L50.10 124.88 L50.60 123.91 L51.10 122.96 L51.60 122.07 L52.10 121.31 L52.60 120.74 L53.10 120.57 L53.60 121.01 L54.10 121.89 L54.60 123.03 L55.10 124.35 L55.60 126.25 L56.10 128.46 L56.60 130.63 L57.10 132.40 L57.60 134.09 L58.10 135.53 L58.60 136.42 L59.10 136.26 L59.60 134.44 L60.10 131.63 L60.60 128.54 L61.10 125.06 L61.60 120.99 L62.10 116.87 L62.60 113.10 L63.10 109.45 L63.60 105.85 L64.10 102.25 L64.60 98.35 L65.10 94.88 L65.60 92.58 L66.10 90.72 L66.60 89.16 L67.10 87.86 L67.60 86.79 L68.10 85.87 L68.60 85.02 L69.10 84.14 L69.60 83.07 L70.10 81.86 L70.60 80.63 L71.10 79.48 L71.60 78.52 L72.10 77.84 L72.60 77.60 L73.10 78.29 L73.60 79.74 L74.10 81.63 L74.60 83.66 L75.10 85.61 L75.60 88.04 L76.10 90.70 L76.60 93.12 L77.10 94.83 L77.60 96.19 L78.10 97.41 L78.60 98.34 L79.10 98.88 L79.60 98.88 L80.10 98.60 L80.60 98.19 L81.10 97.72 L81.60 97.24 L82.10 96.60 L82.60 95.81 L83.10 95.13 L83.60 94.81 L84.10 95.19 L84.60 96.32 L85.10 97.75 L85.60 99.09 L86.10 100.09 L86.60 101.09 L87.10 101.90 L87.60 102.39 L88.10 102.71 L88.60 103.04 L89.10 103.52 L89.60 104.25 L90.10 105.21 L90.60 106.34 L91.10 107.76 L91.60 109.69 L92.10 111.66 L92.60 113.15 L93.10 114.31 L93.60 115.29 L94.10 115.98 L94.60 116.45 L95.10 116.87 L95.60 117.22 L96.10 117.50 L96.60 117.67 L97.10 117.73 L97.60 117.66 L98.10 117.28 L98.60 116.58 L99.10 115.70 L99.60 114.77 L100.10 113.08 L100.60 110.24 L101.10 106.82 L101.60 102.24 L102.10 96.25 L102.60 92.05 L103.10 89.08 L103.60 86.36 L104.10 84.07 L104.60 82.46 L105.10 81.89 L105.60 82.54 L106.10 83.78 L106.60 85.33 L107.10 87.08 L107.60 88.94 L108.10 90.80 L108.60 92.58 L109.10 94.43 L109.60 96.33 L110.10 98.18 L110.60 99.89 L111.10 101.39 L111.60 102.91 L112.10 104.33 L112.60 105.41 L113.10 105.93 L113.60 105.71 L114.10 105.04 L114.60 104.14 L115.10 103.10 L115.60 102.04 L116.10 101.06 L116.60 100.16 L117.10 99.17 L117.60 98.18 L118.10 97.28 L118.60 96.53 L119.10 96.01 L119.60 95.95 L120.10 96.56 L120.60 97.65 L121.10 99.01 L121.60 100.41 L122.10 101.79 L122.60 103.49 L123.10 105.46 L123.60 107.64 L124.10 110.19 L124.60 112.92 L125.10 115.52 L125.60 117.99 L126.10 120.36 L126.60 122.38 L127.10 123.91 L127.60 125.19 L128.10 126.02 L128.60 126.19 L129.10 125.41 L129.60 123.89 L130.10 122.05 L130.60 119.64 L131.10 116.58 L131.60 113.49 L132.10 110.97 L132.60 109.10 L133.10 107.32 L133.60 105.95 L134.10 105.34 L134.60 105.64 L135.10 106.27 L135.60 107.07 L136.10 107.95 L136.60 108.85 L137.10 109.71 L137.60 110.64 L138.10 111.59 L138.60 112.49 L139.10 113.27 L139.60 113.86 L140.10 114.25 L140.60 114.51 L141.10 114.71 L141.60 114.93 L142.10 115.24 L142.60 115.75 L143.10 116.54 L143.60 117.62 L144.10 119.04 L144.60 122.10 L145.10 126.10 L145.60 129.29 L146.10 131.45 L146.60 133.28 L147.10 134.41 L147.60 134.48 L148.10 133.34 L148.60 131.35 L149.10 128.77 L149.60 124.81 L150.10 119.94 L150.60 115.40 L151.10 111.10 L151.60 106.77 L152.10 103.50 L152.60 101.90 L153.10 100.93 L153.60 100.64 L154.10 100.92 L154.60 101.41 L155.10 101.92 L155.60 102.23 L156.10 102.12 L156.60 101.59 L157.10 100.81 L157.60 99.92 L158.10 99.06 L158.60 98.36 L159.10 97.79 L159.60 97.20 L160.10 96.71 L160.60 96.39 L161.10 96.44 L161.60 96.83 L162.10 97.50 L162.60 98.33 L163.10 99.25 L163.60 100.16 L164.10 101.11 L164.60 102.20 L165.10 103.39 L165.60 104.62 L166.10 105.90 L166.60 107.30 L167.10 108.76 L167.60 110.43 L168.10 112.24 L168.60 113.94 L169.10 115.29 L169.60 116.31 L170.10 117.03 L170.60 117.27 L171.10 117.08 L171.60 116.59 L172.10 115.85 L172.60 114.94 L173.10 113.78 L173.60 112.06 L174.10 110.20 L174.60 108.73 L175.10 107.49 L175.60 106.29 L176.10 105.15 L176.60 104.11 L177.10 103.17 L177.60 102.36 L178.10 101.71 L178.60 101.11 L179.10 100.54 L179.60 100.02 L180.10 99.57 L180.60 99.18 L181.10 98.88 L181.60 98.65 L182.10 98.51 L182.60 98.48 L183.10 98.70 L183.60 99.19 L184.10 99.90 L184.60 100.76 L185.10 101.72 L185.60 103.13 L186.10 104.90 L186.60 106.76 L187.10 108.38 L187.60 109.85 L188.10 111.27 L188.60 112.43 L189.10 113.08 L189.60 112.86 L190.10 111.72 L190.60 110.17 L191.10 108.52 L191.60 106.50 L192.10 104.33 L192.60 102.25 L193.10 100.51 L193.60 98.82 L194.10 97.31 L194.60 96.21 L195.10 95.79 L195.60 96.23 L196.10 97.37 L196.60 98.92 L197.10 100.62 L197.60 102.69 L198.10 105.27 L198.60 107.91 L199.10 110.18 L199.60 111.99 L200.10 113.64 L200.60 114.79 L201.10 115.10 L201.60 114.79 L202.10 114.04 L202.60 112.99 L203.10 111.73 L203.60 110.00 L204.10 107.93 L204.60 105.92 L205.10 104.34 L205.60 103.15 L206.10 102.16 L206.60 101.49" fill="none" stroke="#ff3838" stroke-width="1.35" stroke-dasharray="1.1 0.8" stroke-linejoin="round"/>
<path d="M30.2 14.0H207.8" stroke="#dcdcdc" stroke-width="1.8"/>
<path d="M30.2 13.1V189.70000000000002" stroke="#cecece" stroke-width="1.9"/>
<path d="M30.2 188.8H207.8" stroke="#a8a8a8" stroke-width="1.8"/>
<path d="M207.8 13.1V189.70000000000002" stroke="#c2c2c2" stroke-width="1.8"/>
<path d="M48.90 187.8v-1.8M48.90 15.0v1.8M80.02 187.8v-1.8M80.02 15.0v1.8M111.14 187.8v-1.8M111.14 15.0v1.8M142.26 187.8v-1.8M142.26 15.0v1.8M173.38 187.8v-1.8M173.38 15.0v1.8M204.50 187.8v-1.8M204.50 15.0v1.8M31.099999999999998 153.84h1.6M206.9 153.84h-1.6M31.099999999999998 118.88h1.6M206.9 118.88h-1.6M31.099999999999998 83.92h1.6M206.9 83.92h-1.6M31.099999999999998 48.96h1.6M206.9 48.96h-1.6" stroke="#808080" stroke-width="1"/>
<text x="27.3" y="193.20" class="tl" text-anchor="end">0</text>
<text x="27.3" y="158.24" class="tl" text-anchor="end">0.5</text>
<text x="27.3" y="123.28" class="tl" text-anchor="end">1</text>
<text x="27.3" y="88.32" class="tl" text-anchor="end">1.5</text>
<text x="27.3" y="53.36" class="tl" text-anchor="end">2</text>
<text x="27.3" y="18.40" class="tl" text-anchor="end">2.5</text>
<text x="211.2" y="193.20" class="tl">-10</text>
<text x="211.2" y="158.24" class="tl">-5</text>
<text x="211.2" y="123.28" class="tl">0</text>
<text x="211.2" y="88.32" class="tl">5</text>
<text x="211.2" y="53.36" class="tl">10</text>
<text x="211.2" y="18.40" class="tl">15</text>
<text x="48.90" y="202.60" class="tl" text-anchor="middle">1</text>
<text x="80.02" y="202.60" class="tl" text-anchor="middle">2</text>
<text x="111.14" y="202.60" class="tl" text-anchor="middle">3</text>
<text x="142.26" y="202.60" class="tl" text-anchor="middle">4</text>
<text x="173.38" y="202.60" class="tl" text-anchor="middle">5</text>
<text x="204.50" y="202.60" class="tl" text-anchor="middle">6</text>
<text class="al" text-anchor="middle" transform="translate(9.4,101.5) rotate(-90)">Output Voltage [V]</text>
<text class="al" text-anchor="middle" font-size="11.1" style="font-size:11.1px" transform="translate(238.2,101.3) rotate(-90)">Relative Error [%]</text>
<text class="al" x="119.2" y="216.6" text-anchor="middle">Time [s]</text>
<text class="cap" x="130.5" y="234.6" text-anchor="middle">(b)</text>
<rect x="52" y="1" width="159" height="31" fill="#fff"/>
<path d="M52 1.5H211" stroke="#cfcfcf" stroke-width="1"/>
<path d="M52 31.4H211" stroke="#c4c4c4" stroke-width="1.2"/>
<path d="M52.5 1V32" stroke="#747474" stroke-width="1"/>
<path d="M209.9 1V32" stroke="#a4a4a4" stroke-width="1.8"/>
<path d="M56 7.2H65.2" stroke="#0000ff" stroke-width="2"/>
<path d="M56 16.6H65.2" stroke="#ff2020" stroke-width="1.6" stroke-dasharray="1.6 1.8"/>
<path d="M55.7 26.1H60.7M64.3 26.1H65.3" stroke="#333" stroke-width="1.6"/>
<text class="lg" x="68" y="10.1">Experiment (AM, <tspan class="ser"><tspan font-style="italic">R</tspan><tspan font-style="italic" font-size="5.2" dy="1.7">load</tspan><tspan dy="-1.7">=50 kΩ)</tspan></tspan></text>
<text class="lg" x="68" y="18.9">Analytical Prediction (AM, <tspan class="ser"><tspan font-style="italic">R</tspan><tspan font-style="italic" font-size="5.2" dy="1.7">load</tspan><tspan dy="-1.7">=50 kΩ)</tspan></tspan></text>
<text class="lg" x="68" y="27.6">Relative Error</text>
</g>
<g transform="translate(484,0)">
<path d="M48.90 14.0V188.8M80.02 14.0V188.8M111.14 14.0V188.8M142.26 14.0V188.8M173.38 14.0V188.8M204.50 14.0V188.8M30.2 153.84H207.8M30.2 118.88H207.8M30.2 83.92H207.8M30.2 48.96H207.8" stroke="#ececec" stroke-width="0.9" fill="none"/>
<path d="M31.10 82.43 L31.60 83.52 L32.10 84.49 L32.60 85.31 L33.10 85.90 L33.60 86.43 L34.10 86.88 L34.60 87.10 L35.10 86.99 L35.60 86.66 L36.10 86.20 L36.60 85.63 L37.10 84.97 L37.60 84.30 L38.10 83.68 L38.60 83.02 L39.10 82.32 L39.60 81.61 L40.10 80.98 L40.60 80.45 L41.10 80.10 L41.60 79.97 L42.10 79.95 L42.60 79.97 L43.10 80.00 L43.60 79.99 L44.10 79.94 L44.60 79.86 L45.10 79.74 L45.60 79.60 L46.10 78.66 L46.60 76.72 L47.10 74.60 L47.60 73.13 L48.10 73.06 L48.60 74.16 L49.10 75.89 L49.60 77.78 L50.10 79.36 L50.60 80.49 L51.10 81.56 L51.60 82.53 L52.10 83.34 L52.60 83.94 L53.10 84.35 L53.60 84.55 L54.10 84.53 L54.60 84.22 L55.10 83.26 L55.60 81.81 L56.10 80.09 L56.60 78.34 L57.10 75.95 L57.60 72.97 L58.10 69.89 L58.60 67.19 L59.10 65.37 L59.60 64.89 L60.10 65.75 L60.60 67.46 L61.10 69.56 L61.60 71.59 L62.10 73.78 L62.60 76.18 L63.10 78.56 L63.60 80.71 L64.10 82.40 L64.60 83.80 L65.10 84.95 L65.60 85.71 L66.10 86.03 L66.60 86.14 L67.10 86.16 L67.60 86.18 L68.10 86.33 L68.60 86.70 L69.10 87.30 L69.60 87.99 L70.10 88.73 L70.60 89.46 L71.10 90.20 L71.60 91.02 L72.10 91.79 L72.60 92.36 L73.10 92.57 L73.60 92.30 L74.10 91.71 L74.60 90.96 L75.10 90.18 L75.60 89.19 L76.10 88.09 L76.60 87.02 L77.10 86.14 L77.60 85.27 L78.10 84.42 L78.60 83.72 L79.10 83.32 L79.60 83.34 L80.10 83.74 L80.60 84.35 L81.10 85.08 L81.60 85.80 L82.10 86.41 L82.60 87.04 L83.10 87.66 L83.60 88.16 L84.10 88.40 L84.60 87.95 L85.10 86.79 L85.60 85.39 L86.10 84.23 L86.60 83.80 L87.10 83.94 L87.60 84.17 L88.10 84.45 L88.60 84.74 L89.10 85.00 L89.60 85.27 L90.10 85.55 L90.60 85.75 L91.10 85.74 L91.60 85.26 L92.10 84.46 L92.60 83.54 L93.10 82.71 L93.60 82.16 L94.10 82.07 L94.60 82.40 L95.10 82.97 L95.60 83.59 L96.10 84.06 L96.60 84.20 L97.10 83.75 L97.60 82.73 L98.10 81.37 L98.60 79.93 L99.10 78.65 L99.60 77.76 L100.10 77.51 L100.60 78.03 L101.10 79.15 L101.60 80.62 L102.10 82.25 L102.60 83.82 L103.10 85.77 L103.60 87.87 L104.10 89.42 L104.60 90.19 L105.10 90.78 L105.60 91.17 L106.10 91.32 L106.60 91.21 L107.10 90.94 L107.60 90.52 L108.10 89.98 L108.60 89.29 L109.10 88.17 L109.60 86.77 L110.10 85.37 L110.60 84.24 L111.10 83.59 L111.60 83.11 L112.10 82.72 L112.60 82.45 L113.10 82.34 L113.60 82.41 L114.10 82.68 L114.60 83.04 L115.10 83.47 L115.60 83.94 L116.10 84.43 L116.60 84.91 L117.10 85.42 L117.60 86.03 L118.10 86.64 L118.60 87.16 L119.10 87.47 L119.60 87.54 L120.10 87.44 L120.60 87.23 L121.10 86.95 L121.60 86.64 L122.10 86.35 L122.60 86.09 L123.10 85.80 L123.60 85.48 L124.10 85.11 L124.60 84.68 L125.10 84.20 L125.60 83.24 L126.10 81.62 L126.60 79.64 L127.10 77.63 L127.60 75.92 L128.10 74.82 L128.60 74.65 L129.10 75.22 L129.60 76.22 L130.10 77.45 L130.60 78.71 L131.10 79.81 L131.60 80.98 L132.10 82.28 L132.60 83.59 L133.10 84.77 L133.60 85.69 L134.10 86.22 L134.60 86.29 L135.10 86.08 L135.60 85.70 L136.10 85.23 L136.60 84.76 L137.10 84.35 L137.60 83.89 L138.10 83.42 L138.60 82.97 L139.10 82.61 L139.60 82.47 L140.10 82.87 L140.60 83.66 L141.10 84.66 L141.60 85.69 L142.10 86.55 L142.60 87.06 L143.10 86.87 L143.60 85.77 L144.10 84.04 L144.60 82.02 L145.10 79.75 L145.60 76.64 L146.10 73.37 L146.60 70.74 L147.10 68.42 L147.60 66.55 L148.10 65.80 L148.60 66.49 L149.10 68.17 L149.60 70.32 L150.10 72.65 L150.60 75.52 L151.10 78.43 L151.60 80.83 L152.10 83.04 L152.60 85.10 L153.10 86.58 L153.60 87.10 L154.10 86.60 L154.60 85.56 L155.10 84.35 L155.60 83.34 L156.10 82.90 L156.60 82.96 L157.10 83.19 L157.60 83.57 L158.10 84.08 L158.60 84.86 L159.10 86.01 L159.60 87.13 L160.10 87.83 L160.60 87.87 L161.10 87.70 L161.60 87.44 L162.10 87.12 L162.60 86.80 L163.10 86.51 L163.60 86.30 L164.10 86.19 L164.60 86.12 L165.10 86.07 L165.60 85.97 L166.10 85.80 L166.60 85.41 L167.10 84.76 L167.60 83.97 L168.10 83.16 L168.60 82.43 L169.10 81.90 L169.60 81.68 L170.10 81.62 L170.60 81.62 L171.10 81.66 L171.60 81.75 L172.10 81.88 L172.60 82.03 L173.10 82.21 L173.60 82.41 L174.10 82.63 L174.60 82.85 L175.10 83.06 L175.60 83.26 L176.10 83.43 L176.60 83.58 L177.10 83.71 L177.60 83.84 L178.10 83.98 L178.60 84.16 L179.10 84.39 L179.60 84.70 L180.10 85.05 L180.60 85.41 L181.10 85.77 L181.60 86.09 L182.10 86.35 L182.60 86.54 L183.10 86.68 L183.60 86.76 L184.10 86.77 L184.60 86.70 L185.10 86.47 L185.60 86.03 L186.10 85.46 L186.60 84.83 L187.10 84.20 L187.60 83.45 L188.10 82.49 L188.60 81.48 L189.10 80.55 L189.60 79.87 L190.10 79.58 L190.60 79.79 L191.10 80.41 L191.60 81.26 L192.10 82.20 L192.60 83.07 L193.10 84.18 L193.60 85.52 L194.10 86.87 L194.60 88.00 L195.10 88.69 L195.60 88.73 L196.10 88.18 L196.60 87.26 L197.10 86.17 L197.60 85.13 L198.10 84.28 L198.60 83.41 L199.10 82.50 L199.60 81.61 L200.10 80.80 L200.60 80.14 L201.10 79.70 L201.60 79.56 L202.10 79.76 L202.60 80.22 L203.10 80.82 L203.60 81.46 L204.10 82.10 L204.60 82.97 L205.10 83.94 L205.60 84.87 L206.10 85.60 L206.60 85.74" fill="none" stroke="#1a1a1a" stroke-width="1.55" stroke-dasharray="2.8 0.8 1.2 0.8" stroke-linejoin="round"/>
<path d="M31.10 98.48 L31.60 96.71 L32.10 94.81 L32.60 92.57 L33.10 90.52 L33.60 89.29 L34.10 89.39 L34.60 90.59 L35.10 92.45 L35.60 94.51 L36.10 96.33 L36.60 98.02 L37.10 99.91 L37.60 102.20 L38.10 106.08 L38.60 110.72 L39.10 113.61 L39.60 115.62 L40.10 117.18 L40.60 118.20 L41.10 118.80 L41.60 119.24 L42.10 119.60 L42.60 120.00 L43.10 120.52 L43.60 121.27 L44.10 122.22 L44.60 123.26 L45.10 124.31 L45.60 125.30 L46.10 126.35 L46.60 127.41 L47.10 128.11 L47.60 128.09 L48.10 127.31 L48.60 126.05 L49.10 124.60 L49.60 123.25 L50.10 122.17 L50.60 121.06 L51.10 119.96 L51.60 118.93 L52.10 118.05 L52.60 117.40 L53.10 117.18 L53.60 117.63 L54.10 118.55 L54.60 119.77 L55.10 121.25 L55.60 123.38 L56.10 125.84 L56.60 128.24 L57.10 130.28 L57.60 132.26 L58.10 134.00 L58.60 135.11 L59.10 135.07 L59.60 133.26 L60.10 130.31 L60.60 127.00 L61.10 123.25 L61.60 118.87 L62.10 114.39 L62.60 110.24 L63.10 106.18 L63.60 102.17 L64.10 98.19 L64.60 93.93 L65.10 90.13 L65.60 87.61 L66.10 85.61 L66.60 83.95 L67.10 82.58 L67.60 81.44 L68.10 80.46 L68.60 79.51 L69.10 78.48 L69.60 77.25 L70.10 75.87 L70.60 74.44 L71.10 73.10 L71.60 71.95 L72.10 71.11 L72.60 70.75 L73.10 71.46 L73.60 73.04 L74.10 75.14 L74.60 77.41 L75.10 79.60 L75.60 82.31 L76.10 85.29 L76.60 87.99 L77.10 89.91 L77.60 91.46 L78.10 92.86 L78.60 93.94 L79.10 94.55 L79.60 94.55 L80.10 94.19 L80.60 93.69 L81.10 93.10 L81.60 92.50 L82.10 91.74 L82.60 90.83 L83.10 90.02 L83.60 89.61 L84.10 89.98 L84.60 91.23 L85.10 92.90 L85.60 94.49 L86.10 95.69 L86.60 96.80 L87.10 97.63 L87.60 98.12 L88.10 98.43 L88.60 98.73 L89.10 99.20 L89.60 99.94 L90.10 100.91 L90.60 102.08 L91.10 103.57 L91.60 105.65 L92.10 107.81 L92.60 109.48 L93.10 110.79 L93.60 111.88 L94.10 112.60 L94.60 113.06 L95.10 113.43 L95.60 113.75 L96.10 113.99 L96.60 114.15 L97.10 114.26 L97.60 114.29 L98.10 114.03 L98.60 113.46 L99.10 112.68 L99.60 111.80 L100.10 110.07 L100.60 107.06 L101.10 103.36 L101.60 98.41 L102.10 91.94 L102.60 87.32 L103.10 83.92 L103.60 80.75 L104.10 78.09 L104.60 76.26 L105.10 75.56 L105.60 76.19 L106.10 77.48 L106.60 79.14 L107.10 81.04 L107.60 83.07 L108.10 85.12 L108.60 87.09 L109.10 89.21 L109.60 91.41 L110.10 93.55 L110.60 95.49 L111.10 97.14 L111.60 98.80 L112.10 100.33 L112.60 101.50 L113.10 102.06 L113.60 101.81 L114.10 101.09 L114.60 100.09 L115.10 98.95 L115.60 97.78 L116.10 96.69 L116.60 95.69 L117.10 94.58 L117.60 93.46 L118.10 92.42 L118.60 91.57 L119.10 90.97 L119.60 90.90 L120.10 91.56 L120.60 92.74 L121.10 94.21 L121.60 95.73 L122.10 97.21 L122.60 99.03 L123.10 101.14 L123.60 103.47 L124.10 106.20 L124.60 109.11 L125.10 111.90 L125.60 114.59 L126.10 117.24 L126.60 119.54 L127.10 121.33 L127.60 122.80 L128.10 123.77 L128.60 123.96 L129.10 123.10 L129.60 121.44 L130.10 119.40 L130.60 116.78 L131.10 113.47 L131.60 110.12 L132.10 107.34 L132.60 105.22 L133.10 103.22 L133.60 101.67 L134.10 100.96 L134.60 101.27 L135.10 101.96 L135.60 102.85 L136.10 103.83 L136.60 104.83 L137.10 105.78 L137.60 106.80 L138.10 107.86 L138.60 108.85 L139.10 109.71 L139.60 110.35 L140.10 110.71 L140.60 110.90 L141.10 110.99 L141.60 111.11 L142.10 111.35 L142.60 111.83 L143.10 112.69 L143.60 113.94 L144.10 115.61 L144.60 119.01 L145.10 123.41 L145.60 127.00 L146.10 129.51 L146.60 131.61 L147.10 132.95 L147.60 133.16 L148.10 132.06 L148.60 129.96 L149.10 127.17 L149.60 122.91 L150.10 117.68 L150.60 112.70 L151.10 107.90 L151.60 103.11 L152.10 99.42 L152.60 97.49 L153.10 96.28 L153.60 95.90 L154.10 96.26 L154.60 96.92 L155.10 97.60 L155.60 98.05 L156.10 98.00 L156.60 97.43 L157.10 96.59 L157.60 95.60 L158.10 94.63 L158.60 93.80 L159.10 93.04 L159.60 92.28 L160.10 91.66 L160.60 91.32 L161.10 91.39 L161.60 91.85 L162.10 92.59 L162.60 93.51 L163.10 94.52 L163.60 95.50 L164.10 96.52 L164.60 97.67 L165.10 98.93 L165.60 100.23 L166.10 101.61 L166.60 103.13 L167.10 104.74 L167.60 106.59 L168.10 108.57 L168.60 110.43 L169.10 111.90 L169.60 112.99 L170.10 113.75 L170.60 114.01 L171.10 113.80 L171.60 113.27 L172.10 112.50 L172.60 111.52 L173.10 110.29 L173.60 108.46 L174.10 106.50 L174.60 104.93 L175.10 103.60 L175.60 102.32 L176.10 101.11 L176.60 99.99 L177.10 98.99 L177.60 98.14 L178.10 97.43 L178.60 96.77 L179.10 96.15 L179.60 95.57 L180.10 95.05 L180.60 94.60 L181.10 94.22 L181.60 93.94 L182.10 93.76 L182.60 93.70 L183.10 93.91 L183.60 94.42 L184.10 95.16 L184.60 96.08 L185.10 97.13 L185.60 98.66 L186.10 100.60 L186.60 102.62 L187.10 104.40 L187.60 106.03 L188.10 107.64 L188.60 108.97 L189.10 109.73 L189.60 109.58 L190.10 108.43 L190.60 106.78 L191.10 104.99 L191.60 102.79 L192.10 100.39 L192.60 98.11 L193.10 96.14 L193.60 94.20 L194.10 92.42 L194.60 91.11 L195.10 90.57 L195.60 91.03 L196.10 92.30 L196.60 94.07 L197.10 96.00 L197.60 98.31 L198.10 101.13 L198.60 104.00 L199.10 106.49 L199.60 108.49 L200.10 110.30 L200.60 111.57 L201.10 111.94 L201.60 111.63 L202.10 110.83 L202.60 109.68 L203.10 108.30 L203.60 106.42 L204.10 104.18 L204.60 101.97 L205.10 100.20 L205.60 98.83 L206.10 97.70 L206.60 96.98" fill="none" stroke="#1515ff" stroke-width="1.5" stroke-linejoin="round"/>
<path d="M31.10 93.77 L31.60 92.05 L32.10 90.19 L32.60 87.95 L33.10 85.88 L33.60 84.68 L34.10 84.84 L34.60 86.13 L35.10 88.06 L35.60 90.16 L36.10 92.01 L36.60 93.71 L37.10 95.60 L37.60 97.92 L38.10 101.91 L38.60 106.71 L39.10 109.68 L39.60 111.72 L40.10 113.30 L40.60 114.32 L41.10 114.92 L41.60 115.36 L42.10 115.75 L42.60 116.17 L43.10 116.73 L43.60 117.52 L44.10 118.51 L44.60 119.60 L45.10 120.70 L45.60 121.73 L46.10 122.76 L46.60 123.71 L47.10 124.26 L47.60 124.12 L48.10 123.28 L48.60 122.04 L49.10 120.66 L49.60 119.40 L50.10 118.40 L50.60 117.34 L51.10 116.28 L51.60 115.30 L52.10 114.46 L52.60 113.83 L53.10 113.64 L53.60 114.13 L54.10 115.10 L54.60 116.35 L55.10 117.81 L55.60 119.91 L56.10 122.34 L56.60 124.73 L57.10 126.69 L57.60 128.56 L58.10 130.15 L58.60 131.14 L59.10 130.96 L59.60 128.96 L60.10 125.87 L60.60 122.45 L61.10 118.63 L61.60 114.14 L62.10 109.59 L62.60 105.45 L63.10 101.42 L63.60 97.44 L64.10 93.46 L64.60 89.17 L65.10 85.34 L65.60 82.81 L66.10 80.76 L66.60 79.04 L67.10 77.61 L67.60 76.42 L68.10 75.42 L68.60 74.48 L69.10 73.49 L69.60 72.32 L70.10 70.99 L70.60 69.63 L71.10 68.36 L71.60 67.30 L72.10 66.55 L72.60 66.28 L73.10 67.04 L73.60 68.64 L74.10 70.73 L74.60 72.96 L75.10 75.11 L75.60 77.80 L76.10 80.73 L76.60 83.40 L77.10 85.28 L77.60 86.79 L78.10 88.13 L78.60 89.16 L79.10 89.76 L79.60 89.76 L80.10 89.44 L80.60 88.99 L81.10 88.47 L81.60 87.94 L82.10 87.23 L82.60 86.36 L83.10 85.61 L83.60 85.26 L84.10 85.67 L84.60 86.92 L85.10 88.50 L85.60 89.98 L86.10 91.08 L86.60 92.18 L87.10 93.08 L87.60 93.62 L88.10 93.97 L88.60 94.33 L89.10 94.86 L89.60 95.67 L90.10 96.72 L90.60 97.97 L91.10 99.53 L91.60 101.65 L92.10 103.83 L92.60 105.47 L93.10 106.76 L93.60 107.84 L94.10 108.59 L94.60 109.11 L95.10 109.57 L95.60 109.96 L96.10 110.26 L96.60 110.45 L97.10 110.52 L97.60 110.44 L98.10 110.03 L98.60 109.26 L99.10 108.29 L99.60 107.27 L100.10 105.41 L100.60 102.29 L101.10 98.51 L101.60 93.46 L102.10 86.86 L102.60 82.23 L103.10 78.96 L103.60 75.95 L104.10 73.43 L104.60 71.64 L105.10 71.01 L105.60 71.73 L106.10 73.09 L106.60 74.80 L107.10 76.73 L107.60 78.78 L108.10 80.83 L108.60 82.79 L109.10 84.84 L109.60 86.93 L110.10 88.98 L110.60 90.86 L111.10 92.51 L111.60 94.19 L112.10 95.76 L112.60 96.95 L113.10 97.53 L113.60 97.27 L114.10 96.55 L114.60 95.55 L115.10 94.40 L115.60 93.23 L116.10 92.16 L116.60 91.16 L117.10 90.07 L117.60 88.98 L118.10 87.98 L118.60 87.16 L119.10 86.58 L119.60 86.51 L120.10 87.19 L120.60 88.39 L121.10 89.88 L121.60 91.44 L122.10 92.95 L122.60 94.82 L123.10 97.00 L123.60 99.39 L124.10 102.21 L124.60 105.22 L125.10 108.08 L125.60 110.81 L126.10 113.43 L126.60 115.66 L127.10 117.34 L127.60 118.75 L128.10 119.67 L128.60 119.86 L129.10 118.99 L129.60 117.33 L130.10 115.29 L130.60 112.64 L131.10 109.26 L131.60 105.85 L132.10 103.07 L132.60 101.01 L133.10 99.04 L133.60 97.53 L134.10 96.86 L134.60 97.20 L135.10 97.89 L135.60 98.76 L136.10 99.74 L136.60 100.73 L137.10 101.67 L137.60 102.70 L138.10 103.75 L138.60 104.75 L139.10 105.61 L139.60 106.26 L140.10 106.69 L140.60 106.97 L141.10 107.18 L141.60 107.43 L142.10 107.77 L142.60 108.32 L143.10 109.20 L143.60 110.39 L144.10 111.96 L144.60 115.34 L145.10 119.75 L145.60 123.26 L146.10 125.65 L146.60 127.67 L147.10 128.92 L147.60 129.00 L148.10 127.75 L148.60 125.55 L149.10 122.70 L149.60 118.34 L150.10 112.98 L150.60 107.98 L151.10 103.22 L151.60 98.45 L152.10 94.84 L152.60 93.08 L153.10 92.00 L153.60 91.67 L154.10 92.00 L154.60 92.54 L155.10 93.10 L155.60 93.44 L156.10 93.32 L156.60 92.74 L157.10 91.88 L157.60 90.90 L158.10 89.95 L158.60 89.18 L159.10 88.53 L159.60 87.90 L160.10 87.35 L160.60 87.00 L161.10 87.05 L161.60 87.49 L162.10 88.22 L162.60 89.14 L163.10 90.15 L163.60 91.15 L164.10 92.21 L164.60 93.41 L165.10 94.71 L165.60 96.07 L166.10 97.48 L166.60 99.02 L167.10 100.63 L167.60 102.48 L168.10 104.47 L168.60 106.34 L169.10 107.83 L169.60 108.96 L170.10 109.76 L170.60 110.01 L171.10 109.80 L171.60 109.27 L172.10 108.45 L172.60 107.46 L173.10 106.17 L173.60 104.27 L174.10 102.23 L174.60 100.61 L175.10 99.24 L175.60 97.92 L176.10 96.67 L176.60 95.51 L177.10 94.48 L177.60 93.60 L178.10 92.87 L178.60 92.21 L179.10 91.58 L179.60 91.01 L180.10 90.51 L180.60 90.09 L181.10 89.74 L181.60 89.49 L182.10 89.34 L182.60 89.30 L183.10 89.54 L183.60 90.09 L184.10 90.86 L184.60 91.81 L185.10 92.88 L185.60 94.42 L186.10 96.39 L186.60 98.43 L187.10 100.21 L187.60 101.83 L188.10 103.41 L188.60 104.69 L189.10 105.40 L189.60 105.16 L190.10 103.91 L190.60 102.20 L191.10 100.38 L191.60 98.16 L192.10 95.76 L192.60 93.46 L193.10 91.54 L193.60 89.68 L194.10 88.01 L194.60 86.80 L195.10 86.33 L195.60 86.81 L196.10 88.07 L196.60 89.79 L197.10 91.66 L197.60 93.95 L198.10 96.79 L198.60 99.70 L199.10 102.20 L199.60 104.20 L200.10 106.02 L200.60 107.29 L201.10 107.64 L201.60 107.29 L202.10 106.47 L202.60 105.31 L203.10 103.92 L203.60 102.02 L204.10 99.73 L204.60 97.51 L205.10 95.77 L205.60 94.46 L206.10 93.37 L206.60 92.63" fill="none" stroke="#ff3838" stroke-width="1.35" stroke-dasharray="1.1 0.8" stroke-linejoin="round"/>
<path d="M30.2 14.0H207.8" stroke="#dcdcdc" stroke-width="1.8"/>
<path d="M30.2 13.1V189.70000000000002" stroke="#cecece" stroke-width="1.9"/>
<path d="M30.2 188.8H207.8" stroke="#a8a8a8" stroke-width="1.8"/>
<path d="M207.8 13.1V189.70000000000002" stroke="#c2c2c2" stroke-width="1.8"/>
<path d="M48.90 187.8v-1.8M48.90 15.0v1.8M80.02 187.8v-1.8M80.02 15.0v1.8M111.14 187.8v-1.8M111.14 15.0v1.8M142.26 187.8v-1.8M142.26 15.0v1.8M173.38 187.8v-1.8M173.38 15.0v1.8M204.50 187.8v-1.8M204.50 15.0v1.8M31.099999999999998 153.84h1.6M206.9 153.84h-1.6M31.099999999999998 118.88h1.6M206.9 118.88h-1.6M31.099999999999998 83.92h1.6M206.9 83.92h-1.6M31.099999999999998 48.96h1.6M206.9 48.96h-1.6" stroke="#808080" stroke-width="1"/>
<text x="27.3" y="193.20" class="tl" text-anchor="end">0</text>
<text x="27.3" y="158.24" class="tl" text-anchor="end">0.5</text>
<text x="27.3" y="123.28" class="tl" text-anchor="end">1</text>
<text x="27.3" y="88.32" class="tl" text-anchor="end">1.5</text>
<text x="27.3" y="53.36" class="tl" text-anchor="end">2</text>
<text x="27.3" y="18.40" class="tl" text-anchor="end">2.5</text>
<text x="211.2" y="193.20" class="tl">-10</text>
<text x="211.2" y="158.24" class="tl">-5</text>
<text x="211.2" y="123.28" class="tl">0</text>
<text x="211.2" y="88.32" class="tl">5</text>
<text x="211.2" y="53.36" class="tl">10</text>
<text x="211.2" y="18.40" class="tl">15</text>
<text x="48.90" y="202.60" class="tl" text-anchor="middle">1</text>
<text x="80.02" y="202.60" class="tl" text-anchor="middle">2</text>
<text x="111.14" y="202.60" class="tl" text-anchor="middle">3</text>
<text x="142.26" y="202.60" class="tl" text-anchor="middle">4</text>
<text x="173.38" y="202.60" class="tl" text-anchor="middle">5</text>
<text x="204.50" y="202.60" class="tl" text-anchor="middle">6</text>
<text class="al" text-anchor="middle" transform="translate(9.4,101.5) rotate(-90)">Output Voltage [V]</text>
<text class="al" text-anchor="middle" font-size="11.1" style="font-size:11.1px" transform="translate(238.2,101.3) rotate(-90)">Relative Error [%]</text>
<text class="al" x="119.2" y="216.6" text-anchor="middle">Time [s]</text>
<text class="cap" x="130.5" y="234.6" text-anchor="middle">(c)</text>
<rect x="52" y="1" width="159" height="31" fill="#fff"/>
<path d="M52 1.5H211" stroke="#cfcfcf" stroke-width="1"/>
<path d="M52 31.4H211" stroke="#c4c4c4" stroke-width="1.2"/>
<path d="M52.5 1V32" stroke="#747474" stroke-width="1"/>
<path d="M209.9 1V32" stroke="#a4a4a4" stroke-width="1.8"/>
<path d="M56 7.2H65.2" stroke="#0000ff" stroke-width="2"/>
<path d="M56 16.6H65.2" stroke="#ff2020" stroke-width="1.6" stroke-dasharray="1.6 1.8"/>
<path d="M55.7 26.1H60.7M64.3 26.1H65.3" stroke="#333" stroke-width="1.6"/>
<text class="lg" x="68" y="10.1">Experiment (AM, <tspan class="ser"><tspan font-style="italic">R</tspan><tspan font-style="italic" font-size="5.2" dy="1.7">load</tspan><tspan dy="-1.7">=80 kΩ)</tspan></tspan></text>
<text class="lg" x="68" y="18.9">Analytical Prediction (AM, <tspan class="ser"><tspan font-style="italic">R</tspan><tspan font-style="italic" font-size="5.2" dy="1.7">load</tspan><tspan dy="-1.7">=80 kΩ)</tspan></tspan></text>
<text class="lg" x="68" y="27.6">Relative Error</text>
</g>
<g transform="translate(0,239.0)">
<path d="M48.90 13.4V189.0M80.02 13.4V189.0M111.14 13.4V189.0M142.26 13.4V189.0M173.38 13.4V189.0M204.50 13.4V189.0M30.2 153.88H207.8M30.2 118.76H207.8M30.2 83.64H207.8M30.2 48.52H207.8" stroke="#ececec" stroke-width="0.9" fill="none"/>
<path d="M31.10 76.53 L31.60 77.62 L32.10 78.60 L32.60 79.41 L33.10 80.01 L33.60 80.55 L34.10 80.99 L34.60 81.21 L35.10 81.11 L35.60 80.77 L36.10 80.31 L36.60 79.74 L37.10 79.08 L37.60 78.41 L38.10 77.78 L38.60 77.12 L39.10 76.41 L39.60 75.70 L40.10 75.06 L40.60 74.54 L41.10 74.19 L41.60 74.05 L42.10 74.03 L42.60 74.05 L43.10 74.08 L43.60 74.08 L44.10 74.03 L44.60 73.94 L45.10 73.83 L45.60 73.68 L46.10 72.74 L46.60 70.79 L47.10 68.66 L47.60 67.18 L48.10 67.11 L48.60 68.22 L49.10 69.96 L49.60 71.85 L50.10 73.44 L50.60 74.57 L51.10 75.65 L51.60 76.62 L52.10 77.43 L52.60 78.04 L53.10 78.45 L53.60 78.66 L54.10 78.64 L54.60 78.32 L55.10 77.36 L55.60 75.90 L56.10 74.18 L56.60 72.41 L57.10 70.02 L57.60 67.02 L58.10 63.92 L58.60 61.21 L59.10 59.38 L59.60 58.91 L60.10 59.76 L60.60 61.48 L61.10 63.59 L61.60 65.64 L62.10 67.84 L62.60 70.25 L63.10 72.64 L63.60 74.79 L64.10 76.49 L64.60 77.90 L65.10 79.06 L65.60 79.82 L66.10 80.14 L66.60 80.26 L67.10 80.27 L67.60 80.29 L68.10 80.44 L68.60 80.81 L69.10 81.41 L69.60 82.11 L70.10 82.85 L70.60 83.59 L71.10 84.33 L71.60 85.16 L72.10 85.93 L72.60 86.50 L73.10 86.71 L73.60 86.44 L74.10 85.85 L74.60 85.09 L75.10 84.31 L75.60 83.32 L76.10 82.21 L76.60 81.14 L77.10 80.25 L77.60 79.38 L78.10 78.53 L78.60 77.82 L79.10 77.42 L79.60 77.44 L80.10 77.84 L80.60 78.45 L81.10 79.18 L81.60 79.91 L82.10 80.53 L82.60 81.16 L83.10 81.78 L83.60 82.28 L84.10 82.52 L84.60 82.07 L85.10 80.90 L85.60 79.50 L86.10 78.33 L86.60 77.90 L87.10 78.05 L87.60 78.28 L88.10 78.55 L88.60 78.84 L89.10 79.11 L89.60 79.38 L90.10 79.65 L90.60 79.86 L91.10 79.85 L91.60 79.36 L92.10 78.56 L92.60 77.64 L93.10 76.81 L93.60 76.25 L94.10 76.16 L94.60 76.50 L95.10 77.07 L95.60 77.68 L96.10 78.16 L96.60 78.30 L97.10 77.85 L97.60 76.82 L98.10 75.46 L98.60 74.02 L99.10 72.72 L99.60 71.83 L100.10 71.58 L100.60 72.11 L101.10 73.22 L101.60 74.71 L102.10 76.34 L102.60 77.92 L103.10 79.88 L103.60 81.98 L104.10 83.54 L104.60 84.32 L105.10 84.91 L105.60 85.30 L106.10 85.45 L106.60 85.35 L107.10 85.07 L107.60 84.65 L108.10 84.10 L108.60 83.41 L109.10 82.29 L109.60 80.88 L110.10 79.48 L110.60 78.34 L111.10 77.69 L111.60 77.21 L112.10 76.82 L112.60 76.55 L113.10 76.43 L113.60 76.50 L114.10 76.77 L114.60 77.14 L115.10 77.57 L115.60 78.04 L116.10 78.53 L116.60 79.01 L117.10 79.53 L117.60 80.14 L118.10 80.76 L118.60 81.27 L119.10 81.59 L119.60 81.65 L120.10 81.56 L120.60 81.34 L121.10 81.06 L121.60 80.75 L122.10 80.46 L122.60 80.20 L123.10 79.91 L123.60 79.59 L124.10 79.21 L124.60 78.79 L125.10 78.30 L125.60 77.34 L126.10 75.71 L126.60 73.72 L127.10 71.70 L127.60 69.98 L128.10 68.88 L128.60 68.70 L129.10 69.28 L129.60 70.29 L130.10 71.52 L130.60 72.78 L131.10 73.89 L131.60 75.07 L132.10 76.38 L132.60 77.69 L133.10 78.87 L133.60 79.80 L134.10 80.34 L134.60 80.41 L135.10 80.19 L135.60 79.81 L136.10 79.33 L136.60 78.87 L137.10 78.46 L137.60 77.99 L138.10 77.51 L138.60 77.07 L139.10 76.71 L139.60 76.56 L140.10 76.96 L140.60 77.76 L141.10 78.77 L141.60 79.80 L142.10 80.66 L142.60 81.17 L143.10 80.99 L143.60 79.88 L144.10 78.14 L144.60 76.11 L145.10 73.83 L145.60 70.71 L146.10 67.43 L146.60 64.78 L147.10 62.45 L147.60 60.57 L148.10 59.82 L148.60 60.51 L149.10 62.20 L149.60 64.36 L150.10 66.70 L150.60 69.58 L151.10 72.51 L151.60 74.91 L152.10 77.14 L152.60 79.20 L153.10 80.70 L153.60 81.22 L154.10 80.71 L154.60 79.67 L155.10 78.45 L155.60 77.44 L156.10 77.00 L156.60 77.06 L157.10 77.29 L157.60 77.67 L158.10 78.19 L158.60 78.97 L159.10 80.12 L159.60 81.24 L160.10 81.95 L160.60 81.99 L161.10 81.82 L161.60 81.56 L162.10 81.24 L162.60 80.91 L163.10 80.62 L163.60 80.41 L164.10 80.30 L164.60 80.23 L165.10 80.18 L165.60 80.08 L166.10 79.91 L166.60 79.52 L167.10 78.87 L167.60 78.08 L168.10 77.26 L168.60 76.52 L169.10 75.99 L169.60 75.77 L170.10 75.71 L170.60 75.71 L171.10 75.75 L171.60 75.84 L172.10 75.97 L172.60 76.12 L173.10 76.30 L173.60 76.51 L174.10 76.72 L174.60 76.95 L175.10 77.16 L175.60 77.36 L176.10 77.53 L176.60 77.68 L177.10 77.81 L177.60 77.94 L178.10 78.08 L178.60 78.26 L179.10 78.50 L179.60 78.80 L180.10 79.15 L180.60 79.52 L181.10 79.88 L181.60 80.20 L182.10 80.46 L182.60 80.66 L183.10 80.80 L183.60 80.87 L184.10 80.88 L184.60 80.81 L185.10 80.58 L185.60 80.14 L186.10 79.57 L186.60 78.93 L187.10 78.30 L187.60 77.55 L188.10 76.59 L188.60 75.57 L189.10 74.64 L189.60 73.96 L190.10 73.66 L190.60 73.88 L191.10 74.49 L191.60 75.35 L192.10 76.29 L192.60 77.17 L193.10 78.28 L193.60 79.63 L194.10 80.98 L194.60 82.12 L195.10 82.81 L195.60 82.85 L196.10 82.30 L196.60 81.38 L197.10 80.29 L197.60 79.23 L198.10 78.38 L198.60 77.51 L199.10 76.59 L199.60 75.70 L200.10 74.89 L200.60 74.23 L201.10 73.78 L201.60 73.64 L202.10 73.84 L202.60 74.30 L203.10 74.91 L203.60 75.55 L204.10 76.20 L204.60 77.07 L205.10 78.04 L205.60 78.97 L206.10 79.71 L206.60 79.85" fill="none" stroke="#1a1a1a" stroke-width="1.55" stroke-dasharray="2.8 0.8 1.2 0.8" stroke-linejoin="round"/>
<path d="M31.10 96.45 L31.60 94.64 L32.10 92.69 L32.60 90.39 L33.10 88.30 L33.60 87.04 L34.10 87.14 L34.60 88.37 L35.10 90.28 L35.60 92.38 L36.10 94.25 L36.60 95.98 L37.10 97.92 L37.60 100.27 L38.10 104.23 L38.60 109.00 L39.10 111.95 L39.60 114.02 L40.10 115.61 L40.60 116.66 L41.10 117.27 L41.60 117.72 L42.10 118.09 L42.60 118.50 L43.10 119.04 L43.60 119.81 L44.10 120.78 L44.60 121.84 L45.10 122.92 L45.60 123.94 L46.10 125.01 L46.60 126.10 L47.10 126.81 L47.60 126.79 L48.10 125.99 L48.60 124.70 L49.10 123.22 L49.60 121.83 L50.10 120.72 L50.60 119.59 L51.10 118.46 L51.60 117.40 L52.10 116.51 L52.60 115.84 L53.10 115.61 L53.60 116.07 L54.10 117.02 L54.60 118.27 L55.10 119.79 L55.60 121.96 L56.10 124.48 L56.60 126.95 L57.10 129.04 L57.60 131.07 L58.10 132.84 L58.60 133.98 L59.10 133.94 L59.60 132.08 L60.10 129.07 L60.60 125.68 L61.10 121.84 L61.60 117.34 L62.10 112.75 L62.60 108.50 L63.10 104.35 L63.60 100.24 L64.10 96.16 L64.60 91.79 L65.10 87.90 L65.60 85.32 L66.10 83.26 L66.60 81.56 L67.10 80.16 L67.60 79.00 L68.10 77.99 L68.60 77.02 L69.10 75.96 L69.60 74.69 L70.10 73.27 L70.60 71.82 L71.10 70.45 L71.60 69.27 L72.10 68.40 L72.60 68.05 L73.10 68.76 L73.60 70.39 L74.10 72.54 L74.60 74.86 L75.10 77.10 L75.60 79.89 L76.10 82.94 L76.60 85.71 L77.10 87.68 L77.60 89.27 L78.10 90.69 L78.60 91.79 L79.10 92.43 L79.60 92.43 L80.10 92.06 L80.60 91.54 L81.10 90.94 L81.60 90.33 L82.10 89.55 L82.60 88.61 L83.10 87.78 L83.60 87.36 L84.10 87.74 L84.60 89.03 L85.10 90.73 L85.60 92.36 L86.10 93.59 L86.60 94.73 L87.10 95.59 L87.60 96.09 L88.10 96.40 L88.60 96.70 L89.10 97.19 L89.60 97.95 L90.10 98.95 L90.60 100.14 L91.10 101.66 L91.60 103.80 L92.10 106.02 L92.60 107.72 L93.10 109.07 L93.60 110.18 L94.10 110.92 L94.60 111.38 L95.10 111.78 L95.60 112.09 L96.10 112.34 L96.60 112.52 L97.10 112.62 L97.60 112.66 L98.10 112.39 L98.60 111.80 L99.10 111.00 L99.60 110.10 L100.10 108.33 L100.60 105.25 L101.10 101.46 L101.60 96.38 L102.10 89.75 L102.60 85.02 L103.10 81.53 L103.60 78.28 L104.10 75.56 L104.60 73.69 L105.10 72.96 L105.60 73.61 L106.10 74.94 L106.60 76.63 L107.10 78.58 L107.60 80.66 L108.10 82.75 L108.60 84.78 L109.10 86.96 L109.60 89.20 L110.10 91.40 L110.60 93.39 L111.10 95.08 L111.60 96.77 L112.10 98.35 L112.60 99.55 L113.10 100.12 L113.60 99.87 L114.10 99.12 L114.60 98.11 L115.10 96.94 L115.60 95.74 L116.10 94.63 L116.60 93.59 L117.10 92.46 L117.60 91.31 L118.10 90.25 L118.60 89.36 L119.10 88.77 L119.60 88.68 L120.10 89.36 L120.60 90.57 L121.10 92.07 L121.60 93.63 L122.10 95.15 L122.60 97.01 L123.10 99.18 L123.60 101.57 L124.10 104.36 L124.60 107.35 L125.10 110.20 L125.60 112.97 L126.10 115.68 L126.60 118.03 L127.10 119.86 L127.60 121.37 L128.10 122.36 L128.60 122.56 L129.10 121.67 L129.60 119.98 L130.10 117.89 L130.60 115.20 L131.10 111.81 L131.60 108.38 L132.10 105.53 L132.60 103.36 L133.10 101.31 L133.60 99.72 L134.10 98.99 L134.60 99.32 L135.10 100.02 L135.60 100.93 L136.10 101.94 L136.60 102.95 L137.10 103.93 L137.60 104.99 L138.10 106.06 L138.60 107.08 L139.10 107.96 L139.60 108.61 L140.10 108.98 L140.60 109.17 L141.10 109.27 L141.60 109.40 L142.10 109.64 L142.60 110.13 L143.10 111.01 L143.60 112.29 L144.10 114.00 L144.60 117.49 L145.10 121.99 L145.60 125.68 L146.10 128.24 L146.60 130.40 L147.10 131.78 L147.60 131.99 L148.10 130.86 L148.60 128.71 L149.10 125.85 L149.60 121.49 L150.10 116.13 L150.60 111.02 L151.10 106.11 L151.60 101.20 L152.10 97.42 L152.60 95.44 L153.10 94.20 L153.60 93.81 L154.10 94.18 L154.60 94.85 L155.10 95.55 L155.60 96.01 L156.10 95.96 L156.60 95.38 L157.10 94.51 L157.60 93.51 L158.10 92.51 L158.60 91.65 L159.10 90.87 L159.60 90.10 L160.10 89.46 L160.60 89.12 L161.10 89.19 L161.60 89.65 L162.10 90.42 L162.60 91.37 L163.10 92.39 L163.60 93.40 L164.10 94.44 L164.60 95.63 L165.10 96.91 L165.60 98.25 L166.10 99.66 L166.60 101.21 L167.10 102.86 L167.60 104.76 L168.10 106.79 L168.60 108.69 L169.10 110.20 L169.60 111.32 L170.10 112.10 L170.60 112.36 L171.10 112.15 L171.60 111.61 L172.10 110.82 L172.60 109.82 L173.10 108.55 L173.60 106.68 L174.10 104.67 L174.60 103.06 L175.10 101.71 L175.60 100.39 L176.10 99.15 L176.60 98.00 L177.10 96.98 L177.60 96.10 L178.10 95.38 L178.60 94.70 L179.10 94.06 L179.60 93.47 L180.10 92.93 L180.60 92.47 L181.10 92.09 L181.60 91.80 L182.10 91.62 L182.60 91.56 L183.10 91.77 L183.60 92.29 L184.10 93.05 L184.60 93.99 L185.10 95.07 L185.60 96.63 L186.10 98.62 L186.60 100.69 L187.10 102.52 L187.60 104.19 L188.10 105.84 L188.60 107.19 L189.10 107.99 L189.60 107.82 L190.10 106.64 L190.60 104.96 L191.10 103.12 L191.60 100.87 L192.10 98.42 L192.60 96.07 L193.10 94.06 L193.60 92.06 L194.10 90.25 L194.60 88.91 L195.10 88.35 L195.60 88.82 L196.10 90.12 L196.60 91.93 L197.10 93.91 L197.60 96.28 L198.10 99.16 L198.60 102.11 L199.10 104.66 L199.60 106.71 L200.10 108.56 L200.60 109.86 L201.10 110.25 L201.60 109.92 L202.10 109.11 L202.60 107.93 L203.10 106.52 L203.60 104.59 L204.10 102.29 L204.60 100.03 L205.10 98.21 L205.60 96.82 L206.10 95.65 L206.60 94.91" fill="none" stroke="#1515ff" stroke-width="1.5" stroke-linejoin="round"/>
<path d="M31.10 90.89 L31.60 89.11 L32.10 87.19 L32.60 84.87 L33.10 82.74 L33.60 81.49 L34.10 81.66 L34.60 82.99 L35.10 84.98 L35.60 87.16 L36.10 89.06 L36.60 90.82 L37.10 92.78 L37.60 95.17 L38.10 99.29 L38.60 104.25 L39.10 107.31 L39.60 109.42 L40.10 111.05 L40.60 112.10 L41.10 112.72 L41.60 113.18 L42.10 113.58 L42.60 114.01 L43.10 114.59 L43.60 115.40 L44.10 116.43 L44.60 117.55 L45.10 118.70 L45.60 119.76 L46.10 120.82 L46.60 121.80 L47.10 122.38 L47.60 122.22 L48.10 121.36 L48.60 120.07 L49.10 118.65 L49.60 117.35 L50.10 116.32 L50.60 115.22 L51.10 114.13 L51.60 113.11 L52.10 112.24 L52.60 111.60 L53.10 111.40 L53.60 111.90 L54.10 112.91 L54.60 114.20 L55.10 115.70 L55.60 117.87 L56.10 120.39 L56.60 122.85 L57.10 124.88 L57.60 126.80 L58.10 128.46 L58.60 129.48 L59.10 129.29 L59.60 127.23 L60.10 124.04 L60.60 120.51 L61.10 116.56 L61.60 111.92 L62.10 107.23 L62.60 102.94 L63.10 98.79 L63.60 94.68 L64.10 90.57 L64.60 86.13 L65.10 82.18 L65.60 79.57 L66.10 77.44 L66.60 75.67 L67.10 74.19 L67.60 72.97 L68.10 71.93 L68.60 70.96 L69.10 69.95 L69.60 68.73 L70.10 67.36 L70.60 65.95 L71.10 64.63 L71.60 63.54 L72.10 62.77 L72.60 62.49 L73.10 63.28 L73.60 64.93 L74.10 67.08 L74.60 69.39 L75.10 71.61 L75.60 74.38 L76.10 77.42 L76.60 80.17 L77.10 82.12 L77.60 83.68 L78.10 85.06 L78.60 86.13 L79.10 86.74 L79.60 86.74 L80.10 86.41 L80.60 85.95 L81.10 85.41 L81.60 84.87 L82.10 84.14 L82.60 83.23 L83.10 82.45 L83.60 82.09 L84.10 82.52 L84.60 83.81 L85.10 85.44 L85.60 86.96 L86.10 88.11 L86.60 89.25 L87.10 90.17 L87.60 90.73 L88.10 91.09 L88.60 91.46 L89.10 92.01 L89.60 92.84 L90.10 93.93 L90.60 95.22 L91.10 96.82 L91.60 99.02 L92.10 101.27 L92.60 102.96 L93.10 104.29 L93.60 105.41 L94.10 106.19 L94.60 106.71 L95.10 107.19 L95.60 107.60 L96.10 107.91 L96.60 108.11 L97.10 108.17 L97.60 108.10 L98.10 107.67 L98.60 106.88 L99.10 105.89 L99.60 104.83 L100.10 102.91 L100.60 99.68 L101.10 95.78 L101.60 90.57 L102.10 83.76 L102.60 78.97 L103.10 75.58 L103.60 72.48 L104.10 69.87 L104.60 68.03 L105.10 67.37 L105.60 68.12 L106.10 69.52 L106.60 71.28 L107.10 73.29 L107.60 75.40 L108.10 77.52 L108.60 79.54 L109.10 81.65 L109.60 83.82 L110.10 85.94 L110.60 87.88 L111.10 89.59 L111.60 91.32 L112.10 92.94 L112.60 94.17 L113.10 94.77 L113.60 94.51 L114.10 93.75 L114.60 92.72 L115.10 91.53 L115.60 90.33 L116.10 89.22 L116.60 88.19 L117.10 87.06 L117.60 85.94 L118.10 84.90 L118.60 84.05 L119.10 83.46 L119.60 83.39 L120.10 84.08 L120.60 85.33 L121.10 86.86 L121.60 88.47 L122.10 90.03 L122.60 91.97 L123.10 94.21 L123.60 96.69 L124.10 99.60 L124.60 102.70 L125.10 105.67 L125.60 108.48 L126.10 111.18 L126.60 113.48 L127.10 115.23 L127.60 116.67 L128.10 117.63 L128.60 117.83 L129.10 116.93 L129.60 115.21 L130.10 113.11 L130.60 110.37 L131.10 106.88 L131.60 103.36 L132.10 100.48 L132.60 98.36 L133.10 96.33 L133.60 94.77 L134.10 94.07 L134.60 94.42 L135.10 95.13 L135.60 96.04 L136.10 97.05 L136.60 98.07 L137.10 99.04 L137.60 100.10 L138.10 101.19 L138.60 102.22 L139.10 103.11 L139.60 103.78 L140.10 104.22 L140.60 104.51 L141.10 104.73 L141.60 104.98 L142.10 105.34 L142.60 105.91 L143.10 106.82 L143.60 108.04 L144.10 109.66 L144.60 113.15 L145.10 117.71 L145.60 121.34 L146.10 123.80 L146.60 125.90 L147.10 127.19 L147.60 127.27 L148.10 125.98 L148.60 123.71 L149.10 120.77 L149.60 116.27 L150.10 110.72 L150.60 105.56 L151.10 100.65 L151.60 95.72 L152.10 91.99 L152.60 90.17 L153.10 89.06 L153.60 88.72 L154.10 89.05 L154.60 89.61 L155.10 90.19 L155.60 90.54 L156.10 90.43 L156.60 89.82 L157.10 88.94 L157.60 87.92 L158.10 86.93 L158.60 86.14 L159.10 85.48 L159.60 84.81 L160.10 84.24 L160.60 83.89 L161.10 83.94 L161.60 84.39 L162.10 85.15 L162.60 86.11 L163.10 87.14 L163.60 88.18 L164.10 89.27 L164.60 90.51 L165.10 91.85 L165.60 93.26 L166.10 94.72 L166.60 96.30 L167.10 97.97 L167.60 99.88 L168.10 101.94 L168.60 103.87 L169.10 105.41 L169.60 106.57 L170.10 107.39 L170.60 107.66 L171.10 107.44 L171.60 106.88 L172.10 106.05 L172.60 105.01 L173.10 103.69 L173.60 101.73 L174.10 99.62 L174.60 97.95 L175.10 96.53 L175.60 95.17 L176.10 93.87 L176.60 92.69 L177.10 91.62 L177.60 90.70 L178.10 89.95 L178.60 89.27 L179.10 88.62 L179.60 88.04 L180.10 87.52 L180.60 87.07 L181.10 86.72 L181.60 86.46 L182.10 86.31 L182.60 86.27 L183.10 86.52 L183.60 87.07 L184.10 87.88 L184.60 88.86 L185.10 89.96 L185.60 91.56 L186.10 93.58 L186.60 95.69 L187.10 97.53 L187.60 99.21 L188.10 100.84 L188.60 102.16 L189.10 102.89 L189.60 102.65 L190.10 101.35 L190.60 99.58 L191.10 97.71 L191.60 95.42 L192.10 92.94 L192.60 90.57 L193.10 88.58 L193.60 86.67 L194.10 84.94 L194.60 83.68 L195.10 83.19 L195.60 83.70 L196.10 84.99 L196.60 86.77 L197.10 88.70 L197.60 91.06 L198.10 94.00 L198.60 97.01 L199.10 99.59 L199.60 101.66 L200.10 103.54 L200.60 104.84 L201.10 105.20 L201.60 104.85 L202.10 104.00 L202.60 102.79 L203.10 101.37 L203.60 99.39 L204.10 97.03 L204.60 94.74 L205.10 92.95 L205.60 91.59 L206.10 90.46 L206.60 89.70" fill="none" stroke="#ff3838" stroke-width="1.35" stroke-dasharray="1.1 0.8" stroke-linejoin="round"/>
<path d="M30.2 13.4H207.8" stroke="#dcdcdc" stroke-width="1.8"/>
<path d="M30.2 12.5V189.9" stroke="#cecece" stroke-width="1.9"/>
<path d="M30.2 189.0H207.8" stroke="#a8a8a8" stroke-width="1.8"/>
<path d="M207.8 12.5V189.9" stroke="#c2c2c2" stroke-width="1.8"/>
<path d="M48.90 188.0v-1.8M48.90 14.4v1.8M80.02 188.0v-1.8M80.02 14.4v1.8M111.14 188.0v-1.8M111.14 14.4v1.8M142.26 188.0v-1.8M142.26 14.4v1.8M173.38 188.0v-1.8M173.38 14.4v1.8M204.50 188.0v-1.8M204.50 14.4v1.8M31.099999999999998 153.88h1.6M206.9 153.88h-1.6M31.099999999999998 118.76h1.6M206.9 118.76h-1.6M31.099999999999998 83.64h1.6M206.9 83.64h-1.6M31.099999999999998 48.52h1.6M206.9 48.52h-1.6" stroke="#808080" stroke-width="1"/>
<text x="27.3" y="194.00" class="tl" text-anchor="end">0</text>
<text x="27.3" y="158.88" class="tl" text-anchor="end">0.5</text>
<text x="27.3" y="123.76" class="tl" text-anchor="end">1</text>
<text x="27.3" y="88.64" class="tl" text-anchor="end">1.5</text>
<text x="27.3" y="53.52" class="tl" text-anchor="end">2</text>
<text x="27.3" y="18.40" class="tl" text-anchor="end">2.5</text>
<text x="211.2" y="194.00" class="tl">-10</text>
<text x="211.2" y="158.88" class="tl">-5</text>
<text x="211.2" y="123.76" class="tl">0</text>
<text x="211.2" y="88.64" class="tl">5</text>
<text x="211.2" y="53.52" class="tl">10</text>
<text x="211.2" y="18.40" class="tl">15</text>
<text x="48.90" y="202.80" class="tl" text-anchor="middle">1</text>
<text x="80.02" y="202.80" class="tl" text-anchor="middle">2</text>
<text x="111.14" y="202.80" class="tl" text-anchor="middle">3</text>
<text x="142.26" y="202.80" class="tl" text-anchor="middle">4</text>
<text x="173.38" y="202.80" class="tl" text-anchor="middle">5</text>
<text x="204.50" y="202.80" class="tl" text-anchor="middle">6</text>
<text class="al" text-anchor="middle" transform="translate(9.4,101.5) rotate(-90)">Output Voltage [V]</text>
<text class="al" text-anchor="middle" font-size="11.1" style="font-size:11.1px" transform="translate(238.2,101.3) rotate(-90)">Relative Error [%]</text>
<text class="al" x="119.2" y="216.6" text-anchor="middle">Time [s]</text>
<text class="cap" x="130.5" y="234.6" text-anchor="middle">(d)</text>
<rect x="52" y="1" width="159" height="31" fill="#fff"/>
<path d="M52 1.5H211" stroke="#6e6e6e" stroke-width="1"/>
<path d="M52 31.4H211" stroke="#c4c4c4" stroke-width="1.2"/>
<path d="M52.5 1V32" stroke="#747474" stroke-width="1"/>
<path d="M209.9 1V32" stroke="#a4a4a4" stroke-width="1.8"/>
<path d="M56 7.2H65.2" stroke="#0000ff" stroke-width="2"/>
<path d="M56 16.6H65.2" stroke="#ff2020" stroke-width="1.6" stroke-dasharray="1.6 1.8"/>
<path d="M55.7 26.1H60.7M64.3 26.1H65.3" stroke="#333" stroke-width="1.6"/>
<text class="lg" x="68" y="10.1">Experiment (AM, <tspan class="ser"><tspan font-style="italic">R</tspan><tspan font-style="italic" font-size="5.2" dy="1.7">load</tspan><tspan dy="-1.7">=100 kΩ)</tspan></tspan></text>
<text class="lg" x="68" y="18.9">Analytical Prediction (AM, <tspan class="ser"><tspan font-style="italic">R</tspan><tspan font-style="italic" font-size="5.2" dy="1.7">load</tspan><tspan dy="-1.7">=100 kΩ)</tspan></tspan></text>
<text class="lg" x="68" y="27.6">Relative Error</text>
</g>
<g transform="translate(242,239.0)">
<path d="M48.90 13.4V189.0M80.02 13.4V189.0M111.14 13.4V189.0M142.26 13.4V189.0M173.38 13.4V189.0M204.50 13.4V189.0M30.2 153.88H207.8M30.2 118.76H207.8M30.2 83.64H207.8M30.2 48.52H207.8" stroke="#ececec" stroke-width="0.9" fill="none"/>
<path d="M31.10 65.29 L31.60 66.39 L32.10 67.36 L32.60 68.17 L33.10 68.78 L33.60 69.31 L34.10 69.75 L34.60 69.97 L35.10 69.87 L35.60 69.53 L36.10 69.08 L36.60 68.50 L37.10 67.84 L37.60 67.17 L38.10 66.54 L38.60 65.88 L39.10 65.17 L39.60 64.47 L40.10 63.83 L40.60 63.30 L41.10 62.95 L41.60 62.81 L42.10 62.79 L42.60 62.82 L43.10 62.85 L43.60 62.84 L44.10 62.79 L44.60 62.70 L45.10 62.59 L45.60 62.44 L46.10 61.50 L46.60 59.55 L47.10 57.42 L47.60 55.94 L48.10 55.87 L48.60 56.98 L49.10 58.72 L49.60 60.61 L50.10 62.20 L50.60 63.33 L51.10 64.41 L51.60 65.38 L52.10 66.20 L52.60 66.80 L53.10 67.21 L53.60 67.42 L54.10 67.40 L54.60 67.08 L55.10 66.12 L55.60 64.66 L56.10 62.94 L56.60 61.18 L57.10 58.78 L57.60 55.78 L58.10 52.68 L58.60 49.97 L59.10 48.14 L59.60 47.67 L60.10 48.52 L60.60 50.25 L61.10 52.36 L61.60 54.40 L62.10 56.60 L62.60 59.01 L63.10 61.40 L63.60 63.56 L64.10 65.25 L64.60 66.67 L65.10 67.82 L65.60 68.58 L66.10 68.91 L66.60 69.02 L67.10 69.03 L67.60 69.05 L68.10 69.20 L68.60 69.58 L69.10 70.17 L69.60 70.87 L70.10 71.62 L70.60 72.35 L71.10 73.09 L71.60 73.92 L72.10 74.69 L72.60 75.26 L73.10 75.47 L73.60 75.20 L74.10 74.61 L74.60 73.85 L75.10 73.07 L75.60 72.08 L76.10 70.97 L76.60 69.90 L77.10 69.01 L77.60 68.14 L78.10 67.29 L78.60 66.59 L79.10 66.18 L79.60 66.20 L80.10 66.60 L80.60 67.22 L81.10 67.94 L81.60 68.67 L82.10 69.29 L82.60 69.92 L83.10 70.54 L83.60 71.04 L84.10 71.28 L84.60 70.83 L85.10 69.66 L85.60 68.26 L86.10 67.10 L86.60 66.66 L87.10 66.81 L87.60 67.04 L88.10 67.31 L88.60 67.60 L89.10 67.87 L89.60 68.14 L90.10 68.42 L90.60 68.62 L91.10 68.61 L91.60 68.13 L92.10 67.32 L92.60 66.40 L93.10 65.57 L93.60 65.01 L94.10 64.93 L94.60 65.26 L95.10 65.83 L95.60 66.45 L96.10 66.92 L96.60 67.06 L97.10 66.61 L97.60 65.58 L98.10 64.22 L98.60 62.78 L99.10 61.49 L99.60 60.59 L100.10 60.35 L100.60 60.87 L101.10 61.99 L101.60 63.47 L102.10 65.10 L102.60 66.68 L103.10 68.64 L103.60 70.75 L104.10 72.30 L104.60 73.08 L105.10 73.67 L105.60 74.06 L106.10 74.21 L106.60 74.11 L107.10 73.83 L107.60 73.41 L108.10 72.87 L108.60 72.18 L109.10 71.05 L109.60 69.64 L110.10 68.24 L110.60 67.10 L111.10 66.45 L111.60 65.97 L112.10 65.58 L112.60 65.31 L113.10 65.19 L113.60 65.27 L114.10 65.54 L114.60 65.90 L115.10 66.33 L115.60 66.80 L116.10 67.29 L116.60 67.77 L117.10 68.29 L117.60 68.90 L118.10 69.52 L118.60 70.03 L119.10 70.35 L119.60 70.41 L120.10 70.32 L120.60 70.10 L121.10 69.82 L121.60 69.51 L122.10 69.22 L122.60 68.96 L123.10 68.67 L123.60 68.35 L124.10 67.97 L124.60 67.55 L125.10 67.06 L125.60 66.10 L126.10 64.47 L126.60 62.48 L127.10 60.47 L127.60 58.75 L128.10 57.64 L128.60 57.47 L129.10 58.04 L129.60 59.05 L130.10 60.28 L130.60 61.54 L131.10 62.65 L131.60 63.83 L132.10 65.14 L132.60 66.45 L133.10 67.64 L133.60 68.56 L134.10 69.10 L134.60 69.17 L135.10 68.96 L135.60 68.57 L136.10 68.10 L136.60 67.63 L137.10 67.22 L137.60 66.76 L138.10 66.28 L138.60 65.83 L139.10 65.47 L139.60 65.33 L140.10 65.73 L140.60 66.52 L141.10 67.53 L141.60 68.56 L142.10 69.42 L142.60 69.93 L143.10 69.75 L143.60 68.64 L144.10 66.91 L144.60 64.87 L145.10 62.59 L145.60 59.47 L146.10 56.19 L146.60 53.54 L147.10 51.21 L147.60 49.33 L148.10 48.58 L148.60 49.27 L149.10 50.96 L149.60 53.12 L150.10 55.46 L150.60 58.34 L151.10 61.27 L151.60 63.68 L152.10 65.90 L152.60 67.97 L153.10 69.46 L153.60 69.98 L154.10 69.48 L154.60 68.43 L155.10 67.21 L155.60 66.20 L156.10 65.76 L156.60 65.82 L157.10 66.05 L157.60 66.43 L158.10 66.95 L158.60 67.73 L159.10 68.88 L159.60 70.01 L160.10 70.71 L160.60 70.75 L161.10 70.58 L161.60 70.32 L162.10 70.00 L162.60 69.67 L163.10 69.38 L163.60 69.17 L164.10 69.06 L164.60 68.99 L165.10 68.94 L165.60 68.84 L166.10 68.67 L166.60 68.28 L167.10 67.63 L167.60 66.84 L168.10 66.02 L168.60 65.29 L169.10 64.76 L169.60 64.53 L170.10 64.47 L170.60 64.47 L171.10 64.51 L171.60 64.60 L172.10 64.73 L172.60 64.88 L173.10 65.07 L173.60 65.27 L174.10 65.49 L174.60 65.71 L175.10 65.92 L175.60 66.12 L176.10 66.29 L176.60 66.44 L177.10 66.57 L177.60 66.70 L178.10 66.84 L178.60 67.02 L179.10 67.26 L179.60 67.56 L180.10 67.91 L180.60 68.28 L181.10 68.64 L181.60 68.96 L182.10 69.22 L182.60 69.42 L183.10 69.56 L183.60 69.64 L184.10 69.64 L184.60 69.58 L185.10 69.34 L185.60 68.90 L186.10 68.33 L186.60 67.69 L187.10 67.06 L187.60 66.31 L188.10 65.35 L188.60 64.33 L189.10 63.40 L189.60 62.72 L190.10 62.42 L190.60 62.64 L191.10 63.25 L191.60 64.11 L192.10 65.05 L192.60 65.93 L193.10 67.04 L193.60 68.39 L194.10 69.74 L194.60 70.88 L195.10 71.58 L195.60 71.62 L196.10 71.06 L196.60 70.14 L197.10 69.05 L197.60 67.99 L198.10 67.14 L198.60 66.27 L199.10 65.35 L199.60 64.46 L200.10 63.65 L200.60 62.99 L201.10 62.55 L201.60 62.40 L202.10 62.60 L202.60 63.07 L203.10 63.67 L203.60 64.31 L204.10 64.96 L204.60 65.83 L205.10 66.80 L205.60 67.73 L206.10 68.47 L206.60 68.61" fill="none" stroke="#1a1a1a" stroke-width="1.55" stroke-dasharray="2.8 0.8 1.2 0.8" stroke-linejoin="round"/>
<path d="M31.10 91.91 L31.60 90.01 L32.10 87.97 L32.60 85.56 L33.10 83.36 L33.60 82.04 L34.10 82.14 L34.60 83.44 L35.10 85.44 L35.60 87.65 L36.10 89.60 L36.60 91.42 L37.10 93.45 L37.60 95.91 L38.10 100.08 L38.60 105.07 L39.10 108.18 L39.60 110.34 L40.10 112.02 L40.60 113.11 L41.10 113.76 L41.60 114.22 L42.10 114.62 L42.60 115.04 L43.10 115.61 L43.60 116.41 L44.10 117.43 L44.60 118.55 L45.10 119.68 L45.60 120.74 L46.10 121.88 L46.60 123.02 L47.10 123.76 L47.60 123.74 L48.10 122.90 L48.60 121.55 L49.10 120.00 L49.60 118.54 L50.10 117.38 L50.60 116.18 L51.10 115.00 L51.60 113.90 L52.10 112.96 L52.60 112.25 L53.10 112.02 L53.60 112.49 L54.10 113.49 L54.60 114.81 L55.10 116.39 L55.60 118.68 L56.10 121.32 L56.60 123.91 L57.10 126.10 L57.60 128.23 L58.10 130.09 L58.60 131.28 L59.10 131.24 L59.60 129.30 L60.10 126.14 L60.60 122.57 L61.10 118.54 L61.60 113.83 L62.10 109.02 L62.60 104.56 L63.10 100.20 L63.60 95.88 L64.10 91.61 L64.60 87.03 L65.10 82.94 L65.60 80.23 L66.10 78.08 L66.60 76.29 L67.10 74.82 L67.60 73.60 L68.10 72.55 L68.60 71.52 L69.10 70.42 L69.60 69.09 L70.10 67.60 L70.60 66.08 L71.10 64.63 L71.60 63.40 L72.10 62.50 L72.60 62.11 L73.10 62.87 L73.60 64.57 L74.10 66.83 L74.60 69.27 L75.10 71.61 L75.60 74.54 L76.10 77.73 L76.60 80.64 L77.10 82.71 L77.60 84.38 L78.10 85.87 L78.60 87.03 L79.10 87.69 L79.60 87.69 L80.10 87.31 L80.60 86.77 L81.10 86.13 L81.60 85.49 L82.10 84.67 L82.60 83.69 L83.10 82.83 L83.60 82.38 L84.10 82.78 L84.60 84.13 L85.10 85.92 L85.60 87.63 L86.10 88.92 L86.60 90.11 L87.10 91.01 L87.60 91.53 L88.10 91.86 L88.60 92.18 L89.10 92.69 L89.60 93.49 L90.10 94.53 L90.60 95.78 L91.10 97.38 L91.60 99.62 L92.10 101.95 L92.60 103.74 L93.10 105.15 L93.60 106.31 L94.10 107.09 L94.60 107.58 L95.10 107.99 L95.60 108.32 L96.10 108.58 L96.60 108.76 L97.10 108.88 L97.60 108.91 L98.10 108.64 L98.60 108.01 L99.10 107.18 L99.60 106.24 L100.10 104.37 L100.60 101.14 L101.10 97.17 L101.60 91.84 L102.10 84.88 L102.60 79.92 L103.10 76.26 L103.60 72.85 L104.10 70.00 L104.60 68.03 L105.10 67.27 L105.60 67.96 L106.10 69.35 L106.60 71.12 L107.10 73.17 L107.60 75.35 L108.10 77.55 L108.60 79.67 L109.10 81.95 L109.60 84.31 L110.10 86.61 L110.60 88.70 L111.10 90.47 L111.60 92.26 L112.10 93.91 L112.60 95.17 L113.10 95.76 L113.60 95.50 L114.10 94.72 L114.60 93.65 L115.10 92.43 L115.60 91.16 L116.10 90.00 L116.60 88.91 L117.10 87.72 L117.60 86.52 L118.10 85.41 L118.60 84.48 L119.10 83.85 L119.60 83.77 L120.10 84.48 L120.60 85.74 L121.10 87.32 L121.60 88.96 L122.10 90.55 L122.60 92.51 L123.10 94.77 L123.60 97.28 L124.10 100.22 L124.60 103.35 L125.10 106.34 L125.60 109.24 L126.10 112.08 L126.60 114.55 L127.10 116.47 L127.60 118.06 L128.10 119.10 L128.60 119.31 L129.10 118.37 L129.60 116.59 L130.10 114.41 L130.60 111.58 L131.10 108.03 L131.60 104.42 L132.10 101.43 L132.60 99.17 L133.10 97.01 L133.60 95.34 L134.10 94.58 L134.60 94.92 L135.10 95.66 L135.60 96.61 L136.10 97.67 L136.60 98.73 L137.10 99.76 L137.60 100.86 L138.10 101.99 L138.60 103.06 L139.10 103.99 L139.60 104.67 L140.10 105.06 L140.60 105.26 L141.10 105.37 L141.60 105.49 L142.10 105.75 L142.60 106.26 L143.10 107.19 L143.60 108.53 L144.10 110.32 L144.60 113.98 L145.10 118.71 L145.60 122.57 L146.10 125.27 L146.60 127.53 L147.10 128.97 L147.60 129.19 L148.10 128.01 L148.60 125.76 L149.10 122.76 L149.60 118.18 L150.10 112.55 L150.60 107.20 L151.10 102.04 L151.60 96.89 L152.10 92.93 L152.60 90.85 L153.10 89.55 L153.60 89.14 L154.10 89.53 L154.60 90.24 L155.10 90.97 L155.60 91.45 L156.10 91.40 L156.60 90.78 L157.10 89.88 L157.60 88.82 L158.10 87.78 L158.60 86.89 L159.10 86.07 L159.60 85.25 L160.10 84.58 L160.60 84.22 L161.10 84.29 L161.60 84.78 L162.10 85.59 L162.60 86.58 L163.10 87.66 L163.60 88.71 L164.10 89.81 L164.60 91.05 L165.10 92.40 L165.60 93.80 L166.10 95.28 L166.60 96.91 L167.10 98.64 L167.60 100.63 L168.10 102.76 L168.60 104.76 L169.10 106.34 L169.60 107.51 L170.10 108.34 L170.60 108.60 L171.10 108.39 L171.60 107.82 L172.10 106.98 L172.60 105.94 L173.10 104.61 L173.60 102.64 L174.10 100.53 L174.60 98.85 L175.10 97.42 L175.60 96.04 L176.10 94.74 L176.60 93.54 L177.10 92.47 L177.60 91.55 L178.10 90.78 L178.60 90.08 L179.10 89.41 L179.60 88.79 L180.10 88.23 L180.60 87.74 L181.10 87.33 L181.60 87.03 L182.10 86.84 L182.60 86.78 L183.10 87.00 L183.60 87.55 L184.10 88.35 L184.60 89.34 L185.10 90.46 L185.60 92.10 L186.10 94.19 L186.60 96.37 L187.10 98.28 L187.60 100.03 L188.10 101.75 L188.60 103.18 L189.10 104.02 L189.60 103.85 L190.10 102.60 L190.60 100.83 L191.10 98.91 L191.60 96.54 L192.10 93.97 L192.60 91.51 L193.10 89.40 L193.60 87.31 L194.10 85.41 L194.60 84.00 L195.10 83.41 L195.60 83.91 L196.10 85.28 L196.60 87.17 L197.10 89.25 L197.60 91.73 L198.10 94.76 L198.60 97.85 L199.10 100.53 L199.60 102.68 L200.10 104.62 L200.60 105.98 L201.10 106.38 L201.60 106.05 L202.10 105.19 L202.60 103.95 L203.10 102.47 L203.60 100.45 L204.10 98.04 L204.60 95.67 L205.10 93.76 L205.60 92.30 L206.10 91.08 L206.60 90.30" fill="none" stroke="#1515ff" stroke-width="1.5" stroke-linejoin="round"/>
<path d="M31.10 84.53 L31.60 82.63 L32.10 80.58 L32.60 78.11 L33.10 75.84 L33.60 74.51 L34.10 74.68 L34.60 76.10 L35.10 78.22 L35.60 80.55 L36.10 82.57 L36.60 84.44 L37.10 86.53 L37.60 89.08 L38.10 93.47 L38.60 98.76 L39.10 102.01 L39.60 104.26 L40.10 106.00 L40.60 107.12 L41.10 107.78 L41.60 108.27 L42.10 108.69 L42.60 109.16 L43.10 109.77 L43.60 110.63 L44.10 111.72 L44.60 112.92 L45.10 114.14 L45.60 115.27 L46.10 116.41 L46.60 117.45 L47.10 118.06 L47.60 117.90 L48.10 116.99 L48.60 115.62 L49.10 114.10 L49.60 112.71 L50.10 111.61 L50.60 110.44 L51.10 109.28 L51.60 108.19 L52.10 107.26 L52.60 106.57 L53.10 106.36 L53.60 106.90 L54.10 107.97 L54.60 109.35 L55.10 110.95 L55.60 113.26 L56.10 115.94 L56.60 118.57 L57.10 120.73 L57.60 122.78 L58.10 124.55 L58.60 125.64 L59.10 125.43 L59.60 123.25 L60.10 119.85 L60.60 116.09 L61.10 111.88 L61.60 106.94 L62.10 101.94 L62.60 97.38 L63.10 92.95 L63.60 88.56 L64.10 84.19 L64.60 79.46 L65.10 75.25 L65.60 72.46 L66.10 70.20 L66.60 68.31 L67.10 66.74 L67.60 65.44 L68.10 64.33 L68.60 63.30 L69.10 62.22 L69.60 60.92 L70.10 59.46 L70.60 57.95 L71.10 56.55 L71.60 55.38 L72.10 54.56 L72.60 54.26 L73.10 55.09 L73.60 56.85 L74.10 59.15 L74.60 61.61 L75.10 63.98 L75.60 66.93 L76.10 70.17 L76.60 73.10 L77.10 75.18 L77.60 76.83 L78.10 78.32 L78.60 79.46 L79.10 80.11 L79.60 80.11 L80.10 79.76 L80.60 79.26 L81.10 78.69 L81.60 78.11 L82.10 77.33 L82.60 76.36 L83.10 75.53 L83.60 75.14 L84.10 75.60 L84.60 76.97 L85.10 78.72 L85.60 80.34 L86.10 81.56 L86.60 82.78 L87.10 83.76 L87.60 84.35 L88.10 84.74 L88.60 85.13 L89.10 85.71 L89.60 86.60 L90.10 87.76 L90.60 89.13 L91.10 90.84 L91.60 93.18 L92.10 95.57 L92.60 97.38 L93.10 98.80 L93.60 99.99 L94.10 100.81 L94.60 101.38 L95.10 101.89 L95.60 102.32 L96.10 102.65 L96.60 102.86 L97.10 102.93 L97.60 102.85 L98.10 102.39 L98.60 101.56 L99.10 100.50 L99.60 99.38 L100.10 97.34 L100.60 93.90 L101.10 89.74 L101.60 84.19 L102.10 76.93 L102.60 71.83 L103.10 68.22 L103.60 64.91 L104.10 62.13 L104.60 60.17 L105.10 59.46 L105.60 60.25 L106.10 61.75 L106.60 63.63 L107.10 65.76 L107.60 68.01 L108.10 70.27 L108.60 72.42 L109.10 74.68 L109.60 77.00 L110.10 79.25 L110.60 81.32 L111.10 83.14 L111.60 84.99 L112.10 86.71 L112.60 88.02 L113.10 88.66 L113.60 88.37 L114.10 87.57 L114.60 86.48 L115.10 85.21 L115.60 83.93 L116.10 82.74 L116.60 81.65 L117.10 80.44 L117.60 79.24 L118.10 78.15 L118.60 77.23 L119.10 76.60 L119.60 76.52 L120.10 77.27 L120.60 78.59 L121.10 80.23 L121.60 81.94 L122.10 83.60 L122.60 85.67 L123.10 88.06 L123.60 90.70 L124.10 93.80 L124.60 97.10 L125.10 100.26 L125.60 103.26 L126.10 106.13 L126.60 108.59 L127.10 110.45 L127.60 112.00 L128.10 113.01 L128.60 113.23 L129.10 112.27 L129.60 110.44 L130.10 108.19 L130.60 105.27 L131.10 101.56 L131.60 97.81 L132.10 94.74 L132.60 92.48 L133.10 90.31 L133.60 88.66 L134.10 87.91 L134.60 88.28 L135.10 89.04 L135.60 90.00 L136.10 91.08 L136.60 92.16 L137.10 93.21 L137.60 94.34 L138.10 95.50 L138.60 96.59 L139.10 97.54 L139.60 98.26 L140.10 98.72 L140.60 99.03 L141.10 99.27 L141.60 99.53 L142.10 99.90 L142.60 100.51 L143.10 101.48 L143.60 102.79 L144.10 104.52 L144.60 108.23 L145.10 113.09 L145.60 116.96 L146.10 119.59 L146.60 121.82 L147.10 123.20 L147.60 123.28 L148.10 121.91 L148.60 119.50 L149.10 116.36 L149.60 111.57 L150.10 105.66 L150.60 100.17 L151.10 94.93 L151.60 89.67 L152.10 85.70 L152.60 83.75 L153.10 82.57 L153.60 82.21 L154.10 82.55 L154.60 83.16 L155.10 83.78 L155.60 84.15 L156.10 84.03 L156.60 83.39 L157.10 82.44 L157.60 81.36 L158.10 80.31 L158.60 79.47 L159.10 78.76 L159.60 78.05 L160.10 77.44 L160.60 77.06 L161.10 77.11 L161.60 77.60 L162.10 78.41 L162.60 79.42 L163.10 80.54 L163.60 81.63 L164.10 82.79 L164.60 84.11 L165.10 85.54 L165.60 87.04 L166.10 88.60 L166.60 90.28 L167.10 92.05 L167.60 94.10 L168.10 96.28 L168.60 98.35 L169.10 99.98 L169.60 101.22 L170.10 102.10 L170.60 102.39 L171.10 102.16 L171.60 101.56 L172.10 100.67 L172.60 99.57 L173.10 98.16 L173.60 96.07 L174.10 93.82 L174.60 92.04 L175.10 90.54 L175.60 89.08 L176.10 87.71 L176.60 86.44 L177.10 85.30 L177.60 84.32 L178.10 83.53 L178.60 82.80 L179.10 82.11 L179.60 81.48 L180.10 80.93 L180.60 80.47 L181.10 80.09 L181.60 79.80 L182.10 79.64 L182.60 79.60 L183.10 79.86 L183.60 80.46 L184.10 81.31 L184.60 82.35 L185.10 83.53 L185.60 85.23 L186.10 87.38 L186.60 89.63 L187.10 91.60 L187.60 93.38 L188.10 95.12 L188.60 96.53 L189.10 97.32 L189.60 97.05 L190.10 95.68 L190.60 93.80 L191.10 91.79 L191.60 89.35 L192.10 86.71 L192.60 84.18 L193.10 82.07 L193.60 80.02 L194.10 78.18 L194.60 76.84 L195.10 76.31 L195.60 76.85 L196.10 78.23 L196.60 80.12 L197.10 82.19 L197.60 84.71 L198.10 87.83 L198.60 91.04 L199.10 93.80 L199.60 96.00 L200.10 98.00 L200.60 99.39 L201.10 99.77 L201.60 99.39 L202.10 98.49 L202.60 97.21 L203.10 95.69 L203.60 93.59 L204.10 91.07 L204.60 88.63 L205.10 86.72 L205.60 85.27 L206.10 84.07 L206.60 83.25" fill="none" stroke="#ff3838" stroke-width="1.35" stroke-dasharray="1.1 0.8" stroke-linejoin="round"/>
<path d="M30.2 13.4H207.8" stroke="#dcdcdc" stroke-width="1.8"/>
<path d="M30.2 12.5V189.9" stroke="#cecece" stroke-width="1.9"/>
<path d="M30.2 189.0H207.8" stroke="#a8a8a8" stroke-width="1.8"/>
<path d="M207.8 12.5V189.9" stroke="#c2c2c2" stroke-width="1.8"/>
<path d="M48.90 188.0v-1.8M48.90 14.4v1.8M80.02 188.0v-1.8M80.02 14.4v1.8M111.14 188.0v-1.8M111.14 14.4v1.8M142.26 188.0v-1.8M142.26 14.4v1.8M173.38 188.0v-1.8M173.38 14.4v1.8M204.50 188.0v-1.8M204.50 14.4v1.8M31.099999999999998 153.88h1.6M206.9 153.88h-1.6M31.099999999999998 118.76h1.6M206.9 118.76h-1.6M31.099999999999998 83.64h1.6M206.9 83.64h-1.6M31.099999999999998 48.52h1.6M206.9 48.52h-1.6" stroke="#808080" stroke-width="1"/>
<text x="27.3" y="194.00" class="tl" text-anchor="end">0</text>
<text x="27.3" y="158.88" class="tl" text-anchor="end">0.5</text>
<text x="27.3" y="123.76" class="tl" text-anchor="end">1</text>
<text x="27.3" y="88.64" class="tl" text-anchor="end">1.5</text>
<text x="27.3" y="53.52" class="tl" text-anchor="end">2</text>
<text x="27.3" y="18.40" class="tl" text-anchor="end">2.5</text>
<text x="211.2" y="194.00" class="tl">-10</text>
<text x="211.2" y="158.88" class="tl">-5</text>
<text x="211.2" y="123.76" class="tl">0</text>
<text x="211.2" y="88.64" class="tl">5</text>
<text x="211.2" y="53.52" class="tl">10</text>
<text x="211.2" y="18.40" class="tl">15</text>
<text x="48.90" y="202.80" class="tl" text-anchor="middle">1</text>
<text x="80.02" y="202.80" class="tl" text-anchor="middle">2</text>
<text x="111.14" y="202.80" class="tl" text-anchor="middle">3</text>
<text x="142.26" y="202.80" class="tl" text-anchor="middle">4</text>
<text x="173.38" y="202.80" class="tl" text-anchor="middle">5</text>
<text x="204.50" y="202.80" class="tl" text-anchor="middle">6</text>
<text class="al" text-anchor="middle" transform="translate(9.4,101.5) rotate(-90)">Output Voltage [V]</text>
<text class="al" text-anchor="middle" font-size="11.1" style="font-size:11.1px" transform="translate(238.2,101.3) rotate(-90)">Relative Error [%]</text>
<text class="al" x="119.2" y="216.6" text-anchor="middle">Time [s]</text>
<text class="cap" x="130.5" y="234.6" text-anchor="middle">(e)</text>
<rect x="52" y="1" width="159" height="31" fill="#fff"/>
<path d="M52 1.5H211" stroke="#6e6e6e" stroke-width="1"/>
<path d="M52 31.4H211" stroke="#c4c4c4" stroke-width="1.2"/>
<path d="M52.5 1V32" stroke="#747474" stroke-width="1"/>
<path d="M209.9 1V32" stroke="#a4a4a4" stroke-width="1.8"/>
<path d="M56 7.2H65.2" stroke="#0000ff" stroke-width="2"/>
<path d="M56 16.6H65.2" stroke="#ff2020" stroke-width="1.6" stroke-dasharray="1.6 1.8"/>
<path d="M55.7 26.1H60.7M64.3 26.1H65.3" stroke="#333" stroke-width="1.6"/>
<text class="lg" x="68" y="10.1">Experiment (AM, <tspan class="ser"><tspan font-style="italic">R</tspan><tspan font-style="italic" font-size="5.2" dy="1.7">load</tspan><tspan dy="-1.7">=500 kΩ)</tspan></tspan></text>
<text class="lg" x="68" y="18.9">Analytical Prediction (AM, <tspan class="ser"><tspan font-style="italic">R</tspan><tspan font-style="italic" font-size="5.2" dy="1.7">load</tspan><tspan dy="-1.7">=500 kΩ)</tspan></tspan></text>
<text class="lg" x="68" y="27.6">Relative Error</text>
</g>
<g transform="translate(484,239.0)">
<path d="M48.90 13.4V189.0M80.02 13.4V189.0M111.14 13.4V189.0M142.26 13.4V189.0M173.38 13.4V189.0M204.50 13.4V189.0M30.2 153.88H207.8M30.2 118.76H207.8M30.2 83.64H207.8M30.2 48.52H207.8" stroke="#ececec" stroke-width="0.9" fill="none"/>
<path d="M31.10 65.29 L31.60 66.39 L32.10 67.36 L32.60 68.17 L33.10 68.78 L33.60 69.31 L34.10 69.75 L34.60 69.97 L35.10 69.87 L35.60 69.53 L36.10 69.08 L36.60 68.50 L37.10 67.84 L37.60 67.17 L38.10 66.54 L38.60 65.88 L39.10 65.17 L39.60 64.47 L40.10 63.83 L40.60 63.30 L41.10 62.95 L41.60 62.81 L42.10 62.79 L42.60 62.82 L43.10 62.85 L43.60 62.84 L44.10 62.79 L44.60 62.70 L45.10 62.59 L45.60 62.44 L46.10 61.50 L46.60 59.55 L47.10 57.42 L47.60 55.94 L48.10 55.87 L48.60 56.98 L49.10 58.72 L49.60 60.61 L50.10 62.20 L50.60 63.33 L51.10 64.41 L51.60 65.38 L52.10 66.20 L52.60 66.80 L53.10 67.21 L53.60 67.42 L54.10 67.40 L54.60 67.08 L55.10 66.12 L55.60 64.66 L56.10 62.94 L56.60 61.18 L57.10 58.78 L57.60 55.78 L58.10 52.68 L58.60 49.97 L59.10 48.14 L59.60 47.67 L60.10 48.52 L60.60 50.25 L61.10 52.36 L61.60 54.40 L62.10 56.60 L62.60 59.01 L63.10 61.40 L63.60 63.56 L64.10 65.25 L64.60 66.67 L65.10 67.82 L65.60 68.58 L66.10 68.91 L66.60 69.02 L67.10 69.03 L67.60 69.05 L68.10 69.20 L68.60 69.58 L69.10 70.17 L69.60 70.87 L70.10 71.62 L70.60 72.35 L71.10 73.09 L71.60 73.92 L72.10 74.69 L72.60 75.26 L73.10 75.47 L73.60 75.20 L74.10 74.61 L74.60 73.85 L75.10 73.07 L75.60 72.08 L76.10 70.97 L76.60 69.90 L77.10 69.01 L77.60 68.14 L78.10 67.29 L78.60 66.59 L79.10 66.18 L79.60 66.20 L80.10 66.60 L80.60 67.22 L81.10 67.94 L81.60 68.67 L82.10 69.29 L82.60 69.92 L83.10 70.54 L83.60 71.04 L84.10 71.28 L84.60 70.83 L85.10 69.66 L85.60 68.26 L86.10 67.10 L86.60 66.66 L87.10 66.81 L87.60 67.04 L88.10 67.31 L88.60 67.60 L89.10 67.87 L89.60 68.14 L90.10 68.42 L90.60 68.62 L91.10 68.61 L91.60 68.13 L92.10 67.32 L92.60 66.40 L93.10 65.57 L93.60 65.01 L94.10 64.93 L94.60 65.26 L95.10 65.83 L95.60 66.45 L96.10 66.92 L96.60 67.06 L97.10 66.61 L97.60 65.58 L98.10 64.22 L98.60 62.78 L99.10 61.49 L99.60 60.59 L100.10 60.35 L100.60 60.87 L101.10 61.99 L101.60 63.47 L102.10 65.10 L102.60 66.68 L103.10 68.64 L103.60 70.75 L104.10 72.30 L104.60 73.08 L105.10 73.67 L105.60 74.06 L106.10 74.21 L106.60 74.11 L107.10 73.83 L107.60 73.41 L108.10 72.87 L108.60 72.18 L109.10 71.05 L109.60 69.64 L110.10 68.24 L110.60 67.10 L111.10 66.45 L111.60 65.97 L112.10 65.58 L112.60 65.31 L113.10 65.19 L113.60 65.27 L114.10 65.54 L114.60 65.90 L115.10 66.33 L115.60 66.80 L116.10 67.29 L116.60 67.77 L117.10 68.29 L117.60 68.90 L118.10 69.52 L118.60 70.03 L119.10 70.35 L119.60 70.41 L120.10 70.32 L120.60 70.10 L121.10 69.82 L121.60 69.51 L122.10 69.22 L122.60 68.96 L123.10 68.67 L123.60 68.35 L124.10 67.97 L124.60 67.55 L125.10 67.06 L125.60 66.10 L126.10 64.47 L126.60 62.48 L127.10 60.47 L127.60 58.75 L128.10 57.64 L128.60 57.47 L129.10 58.04 L129.60 59.05 L130.10 60.28 L130.60 61.54 L131.10 62.65 L131.60 63.83 L132.10 65.14 L132.60 66.45 L133.10 67.64 L133.60 68.56 L134.10 69.10 L134.60 69.17 L135.10 68.96 L135.60 68.57 L136.10 68.10 L136.60 67.63 L137.10 67.22 L137.60 66.76 L138.10 66.28 L138.60 65.83 L139.10 65.47 L139.60 65.33 L140.10 65.73 L140.60 66.52 L141.10 67.53 L141.60 68.56 L142.10 69.42 L142.60 69.93 L143.10 69.75 L143.60 68.64 L144.10 66.91 L144.60 64.87 L145.10 62.59 L145.60 59.47 L146.10 56.19 L146.60 53.54 L147.10 51.21 L147.60 49.33 L148.10 48.58 L148.60 49.27 L149.10 50.96 L149.60 53.12 L150.10 55.46 L150.60 58.34 L151.10 61.27 L151.60 63.68 L152.10 65.90 L152.60 67.97 L153.10 69.46 L153.60 69.98 L154.10 69.48 L154.60 68.43 L155.10 67.21 L155.60 66.20 L156.10 65.76 L156.60 65.82 L157.10 66.05 L157.60 66.43 L158.10 66.95 L158.60 67.73 L159.10 68.88 L159.60 70.01 L160.10 70.71 L160.60 70.75 L161.10 70.58 L161.60 70.32 L162.10 70.00 L162.60 69.67 L163.10 69.38 L163.60 69.17 L164.10 69.06 L164.60 68.99 L165.10 68.94 L165.60 68.84 L166.10 68.67 L166.60 68.28 L167.10 67.63 L167.60 66.84 L168.10 66.02 L168.60 65.29 L169.10 64.76 L169.60 64.53 L170.10 64.47 L170.60 64.47 L171.10 64.51 L171.60 64.60 L172.10 64.73 L172.60 64.88 L173.10 65.07 L173.60 65.27 L174.10 65.49 L174.60 65.71 L175.10 65.92 L175.60 66.12 L176.10 66.29 L176.60 66.44 L177.10 66.57 L177.60 66.70 L178.10 66.84 L178.60 67.02 L179.10 67.26 L179.60 67.56 L180.10 67.91 L180.60 68.28 L181.10 68.64 L181.60 68.96 L182.10 69.22 L182.60 69.42 L183.10 69.56 L183.60 69.64 L184.10 69.64 L184.60 69.58 L185.10 69.34 L185.60 68.90 L186.10 68.33 L186.60 67.69 L187.10 67.06 L187.60 66.31 L188.10 65.35 L188.60 64.33 L189.10 63.40 L189.60 62.72 L190.10 62.42 L190.60 62.64 L191.10 63.25 L191.60 64.11 L192.10 65.05 L192.60 65.93 L193.10 67.04 L193.60 68.39 L194.10 69.74 L194.60 70.88 L195.10 71.58 L195.60 71.62 L196.10 71.06 L196.60 70.14 L197.10 69.05 L197.60 67.99 L198.10 67.14 L198.60 66.27 L199.10 65.35 L199.60 64.46 L200.10 63.65 L200.60 62.99 L201.10 62.55 L201.60 62.40 L202.10 62.60 L202.60 63.07 L203.10 63.67 L203.60 64.31 L204.10 64.96 L204.60 65.83 L205.10 66.80 L205.60 67.73 L206.10 68.47 L206.60 68.61" fill="none" stroke="#1a1a1a" stroke-width="1.55" stroke-dasharray="2.8 0.8 1.2 0.8" stroke-linejoin="round"/>
<path d="M31.10 91.91 L31.60 90.01 L32.10 87.97 L32.60 85.56 L33.10 83.36 L33.60 82.04 L34.10 82.14 L34.60 83.44 L35.10 85.44 L35.60 87.65 L36.10 89.60 L36.60 91.42 L37.10 93.45 L37.60 95.91 L38.10 100.08 L38.60 105.07 L39.10 108.18 L39.60 110.34 L40.10 112.02 L40.60 113.11 L41.10 113.76 L41.60 114.22 L42.10 114.62 L42.60 115.04 L43.10 115.61 L43.60 116.41 L44.10 117.43 L44.60 118.55 L45.10 119.68 L45.60 120.74 L46.10 121.88 L46.60 123.02 L47.10 123.76 L47.60 123.74 L48.10 122.90 L48.60 121.55 L49.10 120.00 L49.60 118.54 L50.10 117.38 L50.60 116.18 L51.10 115.00 L51.60 113.90 L52.10 112.96 L52.60 112.25 L53.10 112.02 L53.60 112.49 L54.10 113.49 L54.60 114.81 L55.10 116.39 L55.60 118.68 L56.10 121.32 L56.60 123.91 L57.10 126.10 L57.60 128.23 L58.10 130.09 L58.60 131.28 L59.10 131.24 L59.60 129.30 L60.10 126.14 L60.60 122.57 L61.10 118.54 L61.60 113.83 L62.10 109.02 L62.60 104.56 L63.10 100.20 L63.60 95.88 L64.10 91.61 L64.60 87.03 L65.10 82.94 L65.60 80.23 L66.10 78.08 L66.60 76.29 L67.10 74.82 L67.60 73.60 L68.10 72.55 L68.60 71.52 L69.10 70.42 L69.60 69.09 L70.10 67.60 L70.60 66.08 L71.10 64.63 L71.60 63.40 L72.10 62.50 L72.60 62.11 L73.10 62.87 L73.60 64.57 L74.10 66.83 L74.60 69.27 L75.10 71.61 L75.60 74.54 L76.10 77.73 L76.60 80.64 L77.10 82.71 L77.60 84.38 L78.10 85.87 L78.60 87.03 L79.10 87.69 L79.60 87.69 L80.10 87.31 L80.60 86.77 L81.10 86.13 L81.60 85.49 L82.10 84.67 L82.60 83.69 L83.10 82.83 L83.60 82.38 L84.10 82.78 L84.60 84.13 L85.10 85.92 L85.60 87.63 L86.10 88.92 L86.60 90.11 L87.10 91.01 L87.60 91.53 L88.10 91.86 L88.60 92.18 L89.10 92.69 L89.60 93.49 L90.10 94.53 L90.60 95.78 L91.10 97.38 L91.60 99.62 L92.10 101.95 L92.60 103.74 L93.10 105.15 L93.60 106.31 L94.10 107.09 L94.60 107.58 L95.10 107.99 L95.60 108.32 L96.10 108.58 L96.60 108.76 L97.10 108.88 L97.60 108.91 L98.10 108.64 L98.60 108.01 L99.10 107.18 L99.60 106.24 L100.10 104.37 L100.60 101.14 L101.10 97.17 L101.60 91.84 L102.10 84.88 L102.60 79.92 L103.10 76.26 L103.60 72.85 L104.10 70.00 L104.60 68.03 L105.10 67.27 L105.60 67.96 L106.10 69.35 L106.60 71.12 L107.10 73.17 L107.60 75.35 L108.10 77.55 L108.60 79.67 L109.10 81.95 L109.60 84.31 L110.10 86.61 L110.60 88.70 L111.10 90.47 L111.60 92.26 L112.10 93.91 L112.60 95.17 L113.10 95.76 L113.60 95.50 L114.10 94.72 L114.60 93.65 L115.10 92.43 L115.60 91.16 L116.10 90.00 L116.60 88.91 L117.10 87.72 L117.60 86.52 L118.10 85.41 L118.60 84.48 L119.10 83.85 L119.60 83.77 L120.10 84.48 L120.60 85.74 L121.10 87.32 L121.60 88.96 L122.10 90.55 L122.60 92.51 L123.10 94.77 L123.60 97.28 L124.10 100.22 L124.60 103.35 L125.10 106.34 L125.60 109.24 L126.10 112.08 L126.60 114.55 L127.10 116.47 L127.60 118.06 L128.10 119.10 L128.60 119.31 L129.10 118.37 L129.60 116.59 L130.10 114.41 L130.60 111.58 L131.10 108.03 L131.60 104.42 L132.10 101.43 L132.60 99.17 L133.10 97.01 L133.60 95.34 L134.10 94.58 L134.60 94.92 L135.10 95.66 L135.60 96.61 L136.10 97.67 L136.60 98.73 L137.10 99.76 L137.60 100.86 L138.10 101.99 L138.60 103.06 L139.10 103.99 L139.60 104.67 L140.10 105.06 L140.60 105.26 L141.10 105.37 L141.60 105.49 L142.10 105.75 L142.60 106.26 L143.10 107.19 L143.60 108.53 L144.10 110.32 L144.60 113.98 L145.10 118.71 L145.60 122.57 L146.10 125.27 L146.60 127.53 L147.10 128.97 L147.60 129.19 L148.10 128.01 L148.60 125.76 L149.10 122.76 L149.60 118.18 L150.10 112.55 L150.60 107.20 L151.10 102.04 L151.60 96.89 L152.10 92.93 L152.60 90.85 L153.10 89.55 L153.60 89.14 L154.10 89.53 L154.60 90.24 L155.10 90.97 L155.60 91.45 L156.10 91.40 L156.60 90.78 L157.10 89.88 L157.60 88.82 L158.10 87.78 L158.60 86.89 L159.10 86.07 L159.60 85.25 L160.10 84.58 L160.60 84.22 L161.10 84.29 L161.60 84.78 L162.10 85.59 L162.60 86.58 L163.10 87.66 L163.60 88.71 L164.10 89.81 L164.60 91.05 L165.10 92.40 L165.60 93.80 L166.10 95.28 L166.60 96.91 L167.10 98.64 L167.60 100.63 L168.10 102.76 L168.60 104.76 L169.10 106.34 L169.60 107.51 L170.10 108.34 L170.60 108.60 L171.10 108.39 L171.60 107.82 L172.10 106.98 L172.60 105.94 L173.10 104.61 L173.60 102.64 L174.10 100.53 L174.60 98.85 L175.10 97.42 L175.60 96.04 L176.10 94.74 L176.60 93.54 L177.10 92.47 L177.60 91.55 L178.10 90.78 L178.60 90.08 L179.10 89.41 L179.60 88.79 L180.10 88.23 L180.60 87.74 L181.10 87.33 L181.60 87.03 L182.10 86.84 L182.60 86.78 L183.10 87.00 L183.60 87.55 L184.10 88.35 L184.60 89.34 L185.10 90.46 L185.60 92.10 L186.10 94.19 L186.60 96.37 L187.10 98.28 L187.60 100.03 L188.10 101.75 L188.60 103.18 L189.10 104.02 L189.60 103.85 L190.10 102.60 L190.60 100.83 L191.10 98.91 L191.60 96.54 L192.10 93.97 L192.60 91.51 L193.10 89.40 L193.60 87.31 L194.10 85.41 L194.60 84.00 L195.10 83.41 L195.60 83.91 L196.10 85.28 L196.60 87.17 L197.10 89.25 L197.60 91.73 L198.10 94.76 L198.60 97.85 L199.10 100.53 L199.60 102.68 L200.10 104.62 L200.60 105.98 L201.10 106.38 L201.60 106.05 L202.10 105.19 L202.60 103.95 L203.10 102.47 L203.60 100.45 L204.10 98.04 L204.60 95.67 L205.10 93.76 L205.60 92.30 L206.10 91.08 L206.60 90.30" fill="none" stroke="#1515ff" stroke-width="1.5" stroke-linejoin="round"/>
<path d="M31.10 84.53 L31.60 82.63 L32.10 80.58 L32.60 78.11 L33.10 75.84 L33.60 74.51 L34.10 74.68 L34.60 76.10 L35.10 78.22 L35.60 80.55 L36.10 82.57 L36.60 84.44 L37.10 86.53 L37.60 89.08 L38.10 93.47 L38.60 98.76 L39.10 102.01 L39.60 104.26 L40.10 106.00 L40.60 107.12 L41.10 107.78 L41.60 108.27 L42.10 108.69 L42.60 109.16 L43.10 109.77 L43.60 110.63 L44.10 111.72 L44.60 112.92 L45.10 114.14 L45.60 115.27 L46.10 116.41 L46.60 117.45 L47.10 118.06 L47.60 117.90 L48.10 116.99 L48.60 115.62 L49.10 114.10 L49.60 112.71 L50.10 111.61 L50.60 110.44 L51.10 109.28 L51.60 108.19 L52.10 107.26 L52.60 106.57 L53.10 106.36 L53.60 106.90 L54.10 107.97 L54.60 109.35 L55.10 110.95 L55.60 113.26 L56.10 115.94 L56.60 118.57 L57.10 120.73 L57.60 122.78 L58.10 124.55 L58.60 125.64 L59.10 125.43 L59.60 123.25 L60.10 119.85 L60.60 116.09 L61.10 111.88 L61.60 106.94 L62.10 101.94 L62.60 97.38 L63.10 92.95 L63.60 88.56 L64.10 84.19 L64.60 79.46 L65.10 75.25 L65.60 72.46 L66.10 70.20 L66.60 68.31 L67.10 66.74 L67.60 65.44 L68.10 64.33 L68.60 63.30 L69.10 62.22 L69.60 60.92 L70.10 59.46 L70.60 57.95 L71.10 56.55 L71.60 55.38 L72.10 54.56 L72.60 54.26 L73.10 55.09 L73.60 56.85 L74.10 59.15 L74.60 61.61 L75.10 63.98 L75.60 66.93 L76.10 70.17 L76.60 73.10 L77.10 75.18 L77.60 76.83 L78.10 78.32 L78.60 79.46 L79.10 80.11 L79.60 80.11 L80.10 79.76 L80.60 79.26 L81.10 78.69 L81.60 78.11 L82.10 77.33 L82.60 76.36 L83.10 75.53 L83.60 75.14 L84.10 75.60 L84.60 76.97 L85.10 78.72 L85.60 80.34 L86.10 81.56 L86.60 82.78 L87.10 83.76 L87.60 84.35 L88.10 84.74 L88.60 85.13 L89.10 85.71 L89.60 86.60 L90.10 87.76 L90.60 89.13 L91.10 90.84 L91.60 93.18 L92.10 95.57 L92.60 97.38 L93.10 98.80 L93.60 99.99 L94.10 100.81 L94.60 101.38 L95.10 101.89 L95.60 102.32 L96.10 102.65 L96.60 102.86 L97.10 102.93 L97.60 102.85 L98.10 102.39 L98.60 101.56 L99.10 100.50 L99.60 99.38 L100.10 97.34 L100.60 93.90 L101.10 89.74 L101.60 84.19 L102.10 76.93 L102.60 71.83 L103.10 68.22 L103.60 64.91 L104.10 62.13 L104.60 60.17 L105.10 59.46 L105.60 60.25 L106.10 61.75 L106.60 63.63 L107.10 65.76 L107.60 68.01 L108.10 70.27 L108.60 72.42 L109.10 74.68 L109.60 77.00 L110.10 79.25 L110.60 81.32 L111.10 83.14 L111.60 84.99 L112.10 86.71 L112.60 88.02 L113.10 88.66 L113.60 88.37 L114.10 87.57 L114.60 86.48 L115.10 85.21 L115.60 83.93 L116.10 82.74 L116.60 81.65 L117.10 80.44 L117.60 79.24 L118.10 78.15 L118.60 77.23 L119.10 76.60 L119.60 76.52 L120.10 77.27 L120.60 78.59 L121.10 80.23 L121.60 81.94 L122.10 83.60 L122.60 85.67 L123.10 88.06 L123.60 90.70 L124.10 93.80 L124.60 97.10 L125.10 100.26 L125.60 103.26 L126.10 106.13 L126.60 108.59 L127.10 110.45 L127.60 112.00 L128.10 113.01 L128.60 113.23 L129.10 112.27 L129.60 110.44 L130.10 108.19 L130.60 105.27 L131.10 101.56 L131.60 97.81 L132.10 94.74 L132.60 92.48 L133.10 90.31 L133.60 88.66 L134.10 87.91 L134.60 88.28 L135.10 89.04 L135.60 90.00 L136.10 91.08 L136.60 92.16 L137.10 93.21 L137.60 94.34 L138.10 95.50 L138.60 96.59 L139.10 97.54 L139.60 98.26 L140.10 98.72 L140.60 99.03 L141.10 99.27 L141.60 99.53 L142.10 99.90 L142.60 100.51 L143.10 101.48 L143.60 102.79 L144.10 104.52 L144.60 108.23 L145.10 113.09 L145.60 116.96 L146.10 119.59 L146.60 121.82 L147.10 123.20 L147.60 123.28 L148.10 121.91 L148.60 119.50 L149.10 116.36 L149.60 111.57 L150.10 105.66 L150.60 100.17 L151.10 94.93 L151.60 89.67 L152.10 85.70 L152.60 83.75 L153.10 82.57 L153.60 82.21 L154.10 82.55 L154.60 83.16 L155.10 83.78 L155.60 84.15 L156.10 84.03 L156.60 83.39 L157.10 82.44 L157.60 81.36 L158.10 80.31 L158.60 79.47 L159.10 78.76 L159.60 78.05 L160.10 77.44 L160.60 77.06 L161.10 77.11 L161.60 77.60 L162.10 78.41 L162.60 79.42 L163.10 80.54 L163.60 81.63 L164.10 82.79 L164.60 84.11 L165.10 85.54 L165.60 87.04 L166.10 88.60 L166.60 90.28 L167.10 92.05 L167.60 94.10 L168.10 96.28 L168.60 98.35 L169.10 99.98 L169.60 101.22 L170.10 102.10 L170.60 102.39 L171.10 102.16 L171.60 101.56 L172.10 100.67 L172.60 99.57 L173.10 98.16 L173.60 96.07 L174.10 93.82 L174.60 92.04 L175.10 90.54 L175.60 89.08 L176.10 87.71 L176.60 86.44 L177.10 85.30 L177.60 84.32 L178.10 83.53 L178.60 82.80 L179.10 82.11 L179.60 81.48 L180.10 80.93 L180.60 80.47 L181.10 80.09 L181.60 79.80 L182.10 79.64 L182.60 79.60 L183.10 79.86 L183.60 80.46 L184.10 81.31 L184.60 82.35 L185.10 83.53 L185.60 85.23 L186.10 87.38 L186.60 89.63 L187.10 91.60 L187.60 93.38 L188.10 95.12 L188.60 96.53 L189.10 97.32 L189.60 97.05 L190.10 95.68 L190.60 93.80 L191.10 91.79 L191.60 89.35 L192.10 86.71 L192.60 84.18 L193.10 82.07 L193.60 80.02 L194.10 78.18 L194.60 76.84 L195.10 76.31 L195.60 76.85 L196.10 78.23 L196.60 80.12 L197.10 82.19 L197.60 84.71 L198.10 87.83 L198.60 91.04 L199.10 93.80 L199.60 96.00 L200.10 98.00 L200.60 99.39 L201.10 99.77 L201.60 99.39 L202.10 98.49 L202.60 97.21 L203.10 95.69 L203.60 93.59 L204.10 91.07 L204.60 88.63 L205.10 86.72 L205.60 85.27 L206.10 84.07 L206.60 83.25" fill="none" stroke="#ff3838" stroke-width="1.35" stroke-dasharray="1.1 0.8" stroke-linejoin="round"/>
<path d="M30.2 13.4H207.8" stroke="#dcdcdc" stroke-width="1.8"/>
<path d="M30.2 12.5V189.9" stroke="#cecece" stroke-width="1.9"/>
<path d="M30.2 189.0H207.8" stroke="#a8a8a8" stroke-width="1.8"/>
<path d="M207.8 12.5V189.9" stroke="#c2c2c2" stroke-width="1.8"/>
<path d="M48.90 188.0v-1.8M48.90 14.4v1.8M80.02 188.0v-1.8M80.02 14.4v1.8M111.14 188.0v-1.8M111.14 14.4v1.8M142.26 188.0v-1.8M142.26 14.4v1.8M173.38 188.0v-1.8M173.38 14.4v1.8M204.50 188.0v-1.8M204.50 14.4v1.8M31.099999999999998 153.88h1.6M206.9 153.88h-1.6M31.099999999999998 118.76h1.6M206.9 118.76h-1.6M31.099999999999998 83.64h1.6M206.9 83.64h-1.6M31.099999999999998 48.52h1.6M206.9 48.52h-1.6" stroke="#808080" stroke-width="1"/>
<text x="27.3" y="194.00" class="tl" text-anchor="end">0</text>
<text x="27.3" y="158.88" class="tl" text-anchor="end">0.5</text>
<text x="27.3" y="123.76" class="tl" text-anchor="end">1</text>
<text x="27.3" y="88.64" class="tl" text-anchor="end">1.5</text>
<text x="27.3" y="53.52" class="tl" text-anchor="end">2</text>
<text x="27.3" y="18.40" class="tl" text-anchor="end">2.5</text>
<text x="211.2" y="194.00" class="tl">-10</text>
<text x="211.2" y="158.88" class="tl">-5</text>
<text x="211.2" y="123.76" class="tl">0</text>
<text x="211.2" y="88.64" class="tl">5</text>
<text x="211.2" y="53.52" class="tl">10</text>
<text x="211.2" y="18.40" class="tl">15</text>
<text x="48.90" y="202.80" class="tl" text-anchor="middle">1</text>
<text x="80.02" y="202.80" class="tl" text-anchor="middle">2</text>
<text x="111.14" y="202.80" class="tl" text-anchor="middle">3</text>
<text x="142.26" y="202.80" class="tl" text-anchor="middle">4</text>
<text x="173.38" y="202.80" class="tl" text-anchor="middle">5</text>
<text x="204.50" y="202.80" class="tl" text-anchor="middle">6</text>
<text class="al" text-anchor="middle" transform="translate(9.4,101.5) rotate(-90)">Output Voltage [V]</text>
<text class="al" text-anchor="middle" font-size="11.1" style="font-size:11.1px" transform="translate(238.2,101.3) rotate(-90)">Relative Error [%]</text>
<text class="al" x="119.2" y="216.6" text-anchor="middle">Time [s]</text>
<text class="cap" x="130.5" y="234.6" text-anchor="middle">(f)</text>
<rect x="52" y="1" width="159" height="31" fill="#fff"/>
<path d="M52 1.5H211" stroke="#6e6e6e" stroke-width="1"/>
<path d="M52 31.4H211" stroke="#c4c4c4" stroke-width="1.2"/>
<path d="M52.5 1V32" stroke="#747474" stroke-width="1"/>
<path d="M209.9 1V32" stroke="#a4a4a4" stroke-width="1.8"/>
<path d="M56 7.2H65.2" stroke="#0000ff" stroke-width="2"/>
<path d="M56 16.6H65.2" stroke="#ff2020" stroke-width="1.6" stroke-dasharray="1.6 1.8"/>
<path d="M55.7 26.1H60.7M64.3 26.1H65.3" stroke="#333" stroke-width="1.6"/>
<text class="lg" x="68" y="10.1">Experiment (AM, <tspan class="ser"><tspan font-style="italic">R</tspan><tspan font-style="italic" font-size="5.2" dy="1.7">load</tspan><tspan dy="-1.7">=1 MΩ)</tspan></tspan></text>
<text class="lg" x="68" y="18.9">Analytical Prediction (AM, <tspan class="ser"><tspan font-style="italic">R</tspan><tspan font-style="italic" font-size="5.2" dy="1.7">load</tspan><tspan dy="-1.7">=1 MΩ)</tspan></tspan></text>
<text class="lg" x="68" y="27.6">Relative Error</text>
</g>
</svg></body></html>
